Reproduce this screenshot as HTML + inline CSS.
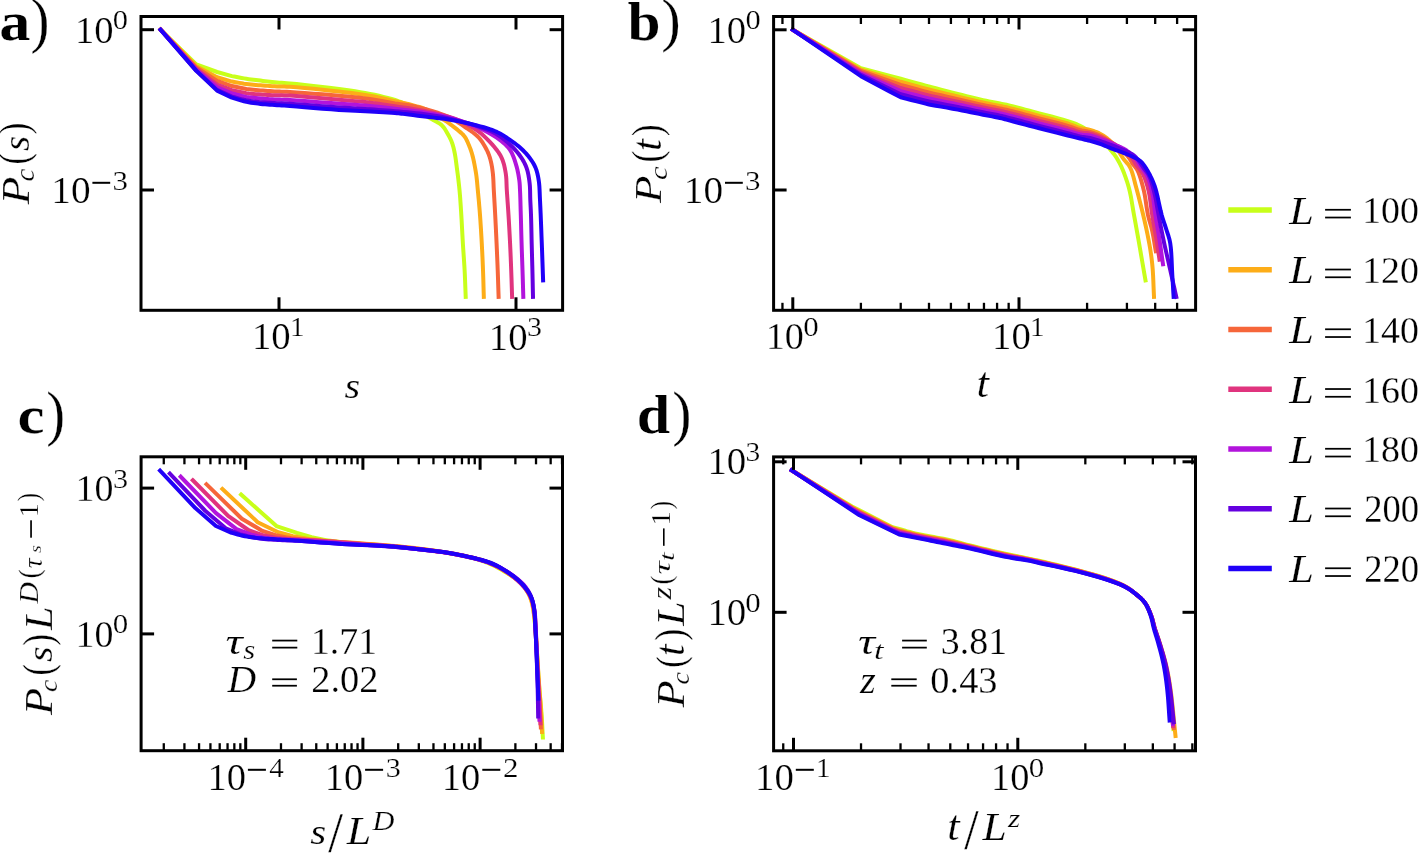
<!DOCTYPE html><html><head><meta charset="utf-8"><title>figure</title><style>html,body{margin:0;padding:0;background:#fff;overflow:hidden}svg{display:block}</style></head><body><svg width="1419" height="853" viewBox="0 0 1419 853"><rect width="1419" height="853" fill="#fff"/><defs>
<clipPath id="clipa"><rect x="141.0" y="16.5" width="421.6" height="293.8"/></clipPath>
<clipPath id="clipb"><rect x="773.6" y="16.5" width="422" height="293.8"/></clipPath>
<clipPath id="clipc"><rect x="141.1" y="456.8" width="421.4" height="293.9"/></clipPath>
<clipPath id="clipd"><rect x="773.6" y="456.9" width="421.9" height="293.9"/></clipPath>
</defs>
<polyline points="160.6,29.7 196.3,64.4 217.1,72 231.9,76.1 234.32,76.56 236.74,77.03 239.16,77.5 241.58,77.96 243.99,78.4 246.4,78.8 248.76,79.15 251.11,79.47 253.46,79.76 255.8,80.04 258.15,80.32 260.5,80.6 262.84,80.9 265.18,81.2 267.51,81.5 269.85,81.78 272.21,82.05 274.6,82.3 277.03,82.51 279.36,82.66 281.72,82.8 284.2,82.95 286.93,83.14 290,83.4 296.7,84.06 304.71,84.9 313.48,85.87 322.48,86.92 331.17,87.98 339,89 344.62,89.77 350,90.53 355.17,91.31 360.2,92.11 365.12,92.97 370,93.9 374.47,94.82 378.98,95.81 383.41,96.84 387.63,97.9 391.54,98.96 395,100 396.95,100.65 398.7,101.29 400.32,101.93 401.86,102.58 403.4,103.27 405,104 406.69,104.81 408.38,105.67 410.06,106.56 411.72,107.47 413.37,108.39 415,109.3 416.55,110.18 418.09,111.07 419.61,111.97 421.11,112.87 422.57,113.75 424,114.6 425.22,115.33 426.42,116.06 427.58,116.77 428.73,117.47 429.87,118.15 431,118.8 432.04,119.37 433.08,119.92 434.11,120.44 435.11,120.96 436.08,121.48 437,122 437.73,122.43 438.44,122.84 439.11,123.26 439.77,123.68 440.4,124.12 441,124.6 441.55,125.08 442.07,125.57 442.56,126.08 443.04,126.61 443.52,127.19 444,127.8 444.6,128.62 445.18,129.51 445.76,130.46 446.34,131.44 446.92,132.46 447.5,133.5 448.2,134.74 448.92,136.03 449.63,137.37 450.33,138.74 451,140.15 451.6,141.6 452.19,143.21 452.72,144.86 453.21,146.56 453.66,148.31 454.09,150.12 454.5,152 454.96,154.35 455.36,156.79 455.73,159.32 456.09,161.93 456.44,164.62 456.8,167.4 457.27,170.9 457.74,174.57 458.22,178.35 458.67,182.22 459.11,186.11 459.5,190 459.86,194.07 460.19,198.17 460.48,202.3 460.76,206.48 461.03,210.71 461.3,215 461.58,219.71 461.85,224.53 462.11,229.41 462.37,234.3 462.63,239.14 462.9,243.9 463.18,248.32 463.48,252.68 463.78,257.01 464.07,261.32 464.35,265.64 464.6,270 464.82,274.45 465.01,278.92 465.19,283.4 465.36,287.89 465.52,292.37 465.7,296.85" fill="none" stroke="#c8ff1a" stroke-width="4.0" stroke-linejoin="round" stroke-linecap="square" clip-path="url(#clipa)"/>
<polyline points="160.6,29.7 196.3,66.22 217.1,77.21 231.9,81.58 234.32,82 236.74,82.44 239.16,82.88 241.58,83.3 243.99,83.7 246.4,84.04 248.76,84.32 251.11,84.56 253.46,84.77 255.8,84.96 258.15,85.14 260.5,85.32 262.84,85.51 265.18,85.7 267.51,85.88 269.85,86.04 272.21,86.2 274.6,86.33 277.03,86.42 279.36,86.47 281.72,86.5 284.2,86.54 286.93,86.63 290,86.79 296.7,87.28 304.71,87.98 313.48,88.82 322.48,89.73 331.17,90.67 339,91.55 344.62,92.21 349.99,92.85 355.17,93.51 360.19,94.19 365.12,94.93 370,95.75 374.46,96.59 378.96,97.54 383.38,98.53 387.61,99.51 391.52,100.4 395,101.17 396.93,101.56 398.67,101.9 400.28,102.21 401.84,102.52 403.39,102.84 405,103.2 406.67,103.61 408.34,104.04 410.01,104.49 411.67,104.95 413.34,105.42 415,105.9 416.68,106.36 418.36,106.8 420.04,107.25 421.71,107.75 423.37,108.32 425,109 426.71,109.89 428.39,110.92 430.06,112.04 431.71,113.19 433.36,114.29 435,115.3 436.52,116.12 438.05,116.88 439.57,117.6 441.07,118.33 442.55,119.08 444,119.9 445.4,120.77 446.78,121.7 448.13,122.65 449.46,123.62 450.75,124.57 452,125.5 453.06,126.29 454.07,127.05 455.06,127.8 456.04,128.57 457.01,129.36 458,130.2 459.11,131.15 460.26,132.12 461.41,133.12 462.52,134.16 463.56,135.25 464.5,136.4 465.31,137.59 466.04,138.83 466.69,140.11 467.3,141.44 467.9,142.8 468.5,144.2 469.17,145.78 469.82,147.38 470.44,149.03 471.05,150.75 471.63,152.56 472.2,154.5 472.95,157.37 473.67,160.53 474.36,163.85 475,167.25 475.59,170.6 476.1,173.8 476.48,176.53 476.79,179.17 477.06,181.76 477.29,184.39 477.53,187.11 477.8,190 478.17,193.83 478.54,197.86 478.93,202.05 479.3,206.33 479.66,210.66 480,215 480.34,219.71 480.66,224.53 480.97,229.41 481.26,234.3 481.54,239.14 481.8,243.9 482.03,248.32 482.25,252.68 482.46,257.01 482.65,261.32 482.83,265.64 483,270 483.16,274.45 483.3,278.92 483.43,283.4 483.55,287.89 483.67,292.37 483.8,296.85" fill="none" stroke="#fdad18" stroke-width="4.0" stroke-linejoin="round" stroke-linecap="square" clip-path="url(#clipa)"/>
<polyline points="160.6,29.7 196.3,67.52 217.1,80.93 231.9,86.03 234.32,86.53 236.74,87.04 239.16,87.56 241.57,88.06 243.99,88.51 246.4,88.92 248.76,89.24 251.11,89.53 253.45,89.77 255.8,89.99 258.15,90.19 260.5,90.4 262.84,90.6 265.17,90.78 267.51,90.96 269.85,91.12 272.21,91.27 274.6,91.41 277.03,91.52 279.36,91.59 281.72,91.66 284.2,91.73 286.93,91.83 290,91.99 296.7,92.41 304.71,92.98 313.48,93.64 322.48,94.36 331.16,95.08 339,95.77 344.62,96.28 349.99,96.77 355.16,97.27 360.19,97.8 365.12,98.37 370,99.01 374.4,99.68 378.78,100.43 383.07,101.22 387.24,102.01 391.23,102.74 395,103.38 397.72,103.78 400.28,104.12 402.74,104.42 405.15,104.73 407.55,105.08 410,105.5 412.51,105.99 415.01,106.53 417.52,107.1 420.01,107.7 422.51,108.34 425,109 427.53,109.69 430.08,110.42 432.63,111.17 435.15,111.96 437.61,112.77 440,113.6 442.09,114.36 444.12,115.11 446.1,115.89 448.06,116.71 450.02,117.61 452,118.6 454.21,119.84 456.46,121.23 458.71,122.71 460.91,124.21 463.02,125.66 465,127 466.46,127.96 467.85,128.87 469.19,129.75 470.48,130.63 471.74,131.53 473,132.5 474.23,133.48 475.43,134.47 476.61,135.48 477.76,136.55 478.89,137.71 480,139 481.4,140.86 482.81,142.94 484.18,145.18 485.48,147.48 486.67,149.74 487.7,151.9 488.43,153.61 489.07,155.28 489.62,156.93 490.12,158.58 490.57,160.27 491,162 491.42,163.88 491.79,165.78 492.12,167.71 492.4,169.68 492.66,171.71 492.9,173.8 493.13,176.31 493.3,178.87 493.43,181.52 493.54,184.24 493.65,187.07 493.8,190 494.02,193.83 494.25,197.87 494.49,202.05 494.73,206.33 494.97,210.67 495.2,215 495.44,219.71 495.68,224.53 495.92,229.41 496.16,234.3 496.38,239.14 496.6,243.9 496.8,248.32 496.99,252.68 497.18,257.01 497.36,261.32 497.53,265.64 497.7,270 497.86,274.45 498.02,278.92 498.16,283.4 498.31,287.89 498.45,292.37 498.6,296.85" fill="none" stroke="#f6663a" stroke-width="4.0" stroke-linejoin="round" stroke-linecap="square" clip-path="url(#clipa)"/>
<polyline points="160.6,29.7 196.3,68.82 217.1,84.65 231.9,90.17 234.32,90.69 236.74,91.22 239.16,91.76 241.57,92.27 243.99,92.74 246.4,93.15 248.75,93.47 251.11,93.73 253.45,93.96 255.8,94.15 258.15,94.33 260.5,94.5 262.84,94.66 265.17,94.8 267.51,94.93 269.85,95.04 272.21,95.14 274.6,95.23 277.03,95.3 279.36,95.33 281.72,95.36 284.2,95.39 286.93,95.47 290,95.6 296.7,96.04 304.71,96.66 313.48,97.41 322.47,98.2 331.16,98.99 339,99.7 344.62,100.2 349.98,100.66 355.16,101.12 360.18,101.6 365.11,102.1 370,102.65 374.33,103.19 378.54,103.77 382.67,104.37 386.77,104.99 390.87,105.62 395,106.24 399.2,106.86 403.44,107.47 407.68,108.09 411.88,108.73 416,109.4 420,110.1 423.48,110.75 426.89,111.42 430.23,112.1 433.51,112.82 436.77,113.58 440,114.4 443.12,115.23 446.24,116.1 449.33,117.01 452.35,117.96 455.25,118.96 458,120 460.19,120.92 462.27,121.88 464.27,122.86 466.22,123.88 468.12,124.93 470,126 471.73,127 473.4,127.99 475.03,129.01 476.65,130.08 478.3,131.27 480,132.6 482.35,134.6 484.83,136.87 487.35,139.32 489.81,141.85 492.13,144.38 494.2,146.8 495.75,148.71 497.19,150.58 498.53,152.44 499.76,154.34 500.89,156.31 501.9,158.4 502.84,160.78 503.64,163.28 504.31,165.87 504.88,168.51 505.37,171.16 505.8,173.8 506.13,176.42 506.34,179.02 506.46,181.64 506.55,184.32 506.65,187.09 506.8,190 507.06,193.83 507.34,197.87 507.63,202.05 507.93,206.33 508.22,210.67 508.5,215 508.79,219.71 509.07,224.53 509.34,229.41 509.61,234.3 509.86,239.14 510.1,243.9 510.31,248.32 510.5,252.68 510.69,257.01 510.86,261.32 511.03,265.64 511.2,270 511.36,274.45 511.52,278.92 511.66,283.4 511.81,287.89 511.95,292.37 512.1,296.85" fill="none" stroke="#e0347e" stroke-width="4.0" stroke-linejoin="round" stroke-linecap="square" clip-path="url(#clipa)"/>
<polyline points="160.6,29.7 196.3,69.73 217.1,87.25 231.9,93.44 234.32,94.03 236.74,94.65 239.15,95.27 241.57,95.86 243.99,96.4 246.4,96.87 248.75,97.26 251.1,97.58 253.45,97.85 255.8,98.1 258.15,98.32 260.5,98.53 262.84,98.72 265.17,98.88 267.51,99.03 269.85,99.15 272.21,99.27 274.6,99.39 277.03,99.5 279.36,99.58 281.72,99.65 284.2,99.74 286.93,99.85 290,100.01 296.7,100.44 304.7,101.03 313.48,101.7 322.47,102.41 331.16,103.1 339,103.7 344.61,104.11 349.98,104.48 355.15,104.84 360.18,105.2 365.11,105.57 370,105.99 374.32,106.4 378.54,106.83 382.67,107.27 386.77,107.72 390.87,108.19 395,108.67 399.2,109.16 403.44,109.65 407.68,110.15 411.88,110.67 416,111.22 420,111.8 423.47,112.34 426.84,112.89 430.16,113.46 433.43,114.06 436.7,114.7 440,115.4 443.36,116.15 446.73,116.94 450.1,117.78 453.44,118.66 456.75,119.6 460,120.6 463.08,121.61 466.1,122.66 469.09,123.76 472.06,124.93 475.03,126.17 478,127.5 481.18,128.99 484.42,130.57 487.65,132.24 490.82,133.98 493.85,135.8 496.7,137.7 499.14,139.45 501.51,141.24 503.78,143.1 505.91,145.04 507.86,147.1 509.6,149.3 511.08,151.64 512.34,154.15 513.44,156.77 514.4,159.45 515.28,162.14 516.1,164.8 516.84,167.4 517.49,170.06 518.05,172.74 518.54,175.38 518.95,177.91 519.3,180.3 519.51,181.99 519.66,183.53 519.76,185 519.84,186.51 519.91,188.15 520,190 520.16,193.47 520.3,197.4 520.43,201.66 520.55,206.1 520.67,210.59 520.8,215 520.94,219.71 521.07,224.53 521.19,229.41 521.32,234.3 521.46,239.14 521.6,243.9 521.74,248.32 521.89,252.68 522.05,257.01 522.2,261.32 522.35,265.64 522.5,270 522.64,274.45 522.78,278.92 522.91,283.4 523.04,287.89 523.17,292.37 523.3,296.85" fill="none" stroke="#b214dc" stroke-width="4.0" stroke-linejoin="round" stroke-linecap="square" clip-path="url(#clipa)"/>
<polyline points="160.6,29.7 196.3,70.64 217.1,89.86 231.9,96.57 234.32,97.22 236.73,97.89 239.15,98.57 241.57,99.22 243.98,99.81 246.4,100.33 248.75,100.74 251.1,101.1 253.45,101.4 255.8,101.67 258.15,101.91 260.5,102.14 262.84,102.34 265.17,102.5 267.51,102.65 269.85,102.77 272.21,102.89 274.6,103.02 277.03,103.14 279.36,103.24 281.72,103.33 284.2,103.44 286.92,103.57 290,103.74 296.7,104.19 304.7,104.79 313.47,105.48 322.47,106.19 331.16,106.86 339,107.42 344.61,107.78 349.98,108.1 355.15,108.4 360.18,108.68 365.11,108.98 370,109.29 374.32,109.59 378.53,109.89 382.67,110.19 386.77,110.5 390.87,110.83 395,111.18 399.2,111.54 403.44,111.92 407.68,112.3 411.88,112.71 416,113.14 420,113.6 423.47,114.02 426.84,114.45 430.15,114.9 433.43,115.38 436.7,115.91 440,116.5 443.34,117.17 446.68,117.9 450.02,118.67 453.35,119.49 456.68,120.33 460,121.2 463.37,122.08 466.77,122.99 470.17,123.93 473.53,124.9 476.82,125.92 480,127 482.82,128.01 485.58,129.02 488.28,130.08 490.92,131.21 493.49,132.44 496,133.8 498.43,135.3 500.8,136.93 503.11,138.66 505.36,140.47 507.52,142.32 509.6,144.2 511.52,146.03 513.39,147.91 515.18,149.83 516.89,151.8 518.5,153.79 520,155.8 521.28,157.65 522.48,159.51 523.6,161.39 524.63,163.32 525.56,165.31 526.4,167.4 527.19,169.8 527.85,172.31 528.4,174.91 528.86,177.56 529.26,180.23 529.6,182.9 529.87,185.71 530.03,188.57 530.11,191.46 530.16,194.35 530.21,197.2 530.3,200 530.42,202.5 530.54,204.89 530.66,207.26 530.78,209.67 530.89,212.23 531,215 531.13,219.29 531.26,223.99 531.37,228.95 531.48,234.03 531.58,239.06 531.7,243.9 531.82,248.32 531.93,252.68 532.05,257.01 532.17,261.32 532.29,265.64 532.4,270 532.51,274.45 532.61,278.92 532.71,283.4 532.8,287.89 532.9,292.37 533,296.85" fill="none" stroke="#6400e0" stroke-width="4.0" stroke-linejoin="round" stroke-linecap="square" clip-path="url(#clipa)"/>
<polyline points="160.6,29.7 196.3,70.9 217.1,90.6 231.9,97.7 234.32,98.41 236.73,99.14 239.15,99.87 241.57,100.58 243.98,101.23 246.4,101.8 248.75,102.27 251.1,102.67 253.45,103.03 255.8,103.34 258.15,103.63 260.5,103.9 262.84,104.14 265.17,104.35 267.51,104.52 269.85,104.68 272.21,104.84 274.6,105 277.03,105.17 279.36,105.31 281.72,105.46 284.2,105.61 286.92,105.79 290,106 296.7,106.52 304.7,107.17 313.47,107.9 322.47,108.64 331.16,109.33 339,109.9 344.61,110.26 349.98,110.56 355.15,110.84 360.17,111.09 365.11,111.34 370,111.6 374.45,111.84 378.95,112.06 383.37,112.28 387.6,112.51 391.52,112.74 395,113 396.88,113.17 398.5,113.33 399.99,113.5 401.49,113.68 403.12,113.88 405,114.1 408.7,114.54 413,115.07 417.63,115.64 422.35,116.23 426.89,116.8 431,117.3 433.88,117.63 436.6,117.92 439.2,118.2 441.76,118.49 444.34,118.81 447,119.2 449.91,119.68 452.89,120.23 455.89,120.81 458.86,121.41 461.75,122.02 464.5,122.6 466.7,123.07 468.82,123.54 470.87,124 472.89,124.48 474.92,124.97 477,125.5 479.22,126.07 481.5,126.67 483.78,127.28 486.03,127.92 488.22,128.6 490.3,129.3 492.03,129.93 493.68,130.58 495.29,131.24 496.87,131.94 498.43,132.69 500,133.5 501.63,134.41 503.23,135.39 504.82,136.42 506.41,137.48 508,138.58 509.6,139.7 511.34,140.91 513.11,142.15 514.88,143.42 516.63,144.73 518.35,146.09 520,147.5 521.61,148.97 523.2,150.49 524.74,152.06 526.23,153.68 527.66,155.32 529,157 530.23,158.64 531.42,160.31 532.54,162.01 533.58,163.75 534.54,165.54 535.4,167.4 536.17,169.4 536.83,171.44 537.39,173.53 537.88,175.7 538.31,177.95 538.7,180.3 539.09,183.24 539.36,186.25 539.54,189.39 539.68,192.69 539.82,196.21 540,200 540.31,206.36 540.63,213.5 540.93,221.12 541.24,228.92 541.52,236.62 541.8,243.9 542.04,250.18 542.26,256.32 542.47,262.36 542.68,268.36 542.89,274.36 543.1,280.4" fill="none" stroke="#2000f8" stroke-width="4.0" stroke-linejoin="round" stroke-linecap="square" clip-path="url(#clipa)"/>
<polyline points="792.8,29.8 860.9,68.3 890,75.9 900.7,78.7 905.68,80.09 911.17,81.62 916.67,83.16 921.64,84.55 925.59,85.64 928,86.3 928.23,86.36 928.38,86.4 928.5,86.43 928.62,86.46 928.77,86.5 929,86.56 931.53,87.21 935.72,88.29 941,89.65 946.81,91.14 952.56,92.6 957.7,93.9 962.06,95 966.43,96.1 970.76,97.18 974.99,98.22 979.09,99.2 983,100.1 986.07,100.77 989.08,101.39 991.99,101.98 994.79,102.53 997.46,103.06 1000,103.56 1001.77,103.92 1003.37,104.22 1004.9,104.52 1006.46,104.82 1008.12,105.18 1010,105.6 1013.34,106.41 1017.03,107.37 1021.01,108.43 1025.18,109.56 1029.48,110.73 1033.8,111.9 1039.3,113.35 1045.29,114.9 1051.45,116.5 1057.45,118.11 1062.97,119.65 1067.7,121.1 1070.17,121.92 1072.42,122.69 1074.49,123.45 1076.42,124.21 1078.25,124.98 1080,125.8 1081.3,126.46 1082.5,127.12 1083.63,127.8 1084.74,128.5 1085.85,129.23 1087,130 1088.32,130.92 1089.65,131.89 1090.99,132.9 1092.33,133.93 1093.67,134.97 1095,136 1096.36,137.05 1097.75,138.11 1099.13,139.19 1100.49,140.25 1101.79,141.3 1103,142.3 1103.93,143.08 1104.82,143.85 1105.68,144.59 1106.5,145.33 1107.27,146.06 1108,146.8 1108.56,147.41 1109.06,148.01 1109.53,148.6 1110,149.21 1110.48,149.84 1111,150.5 1111.7,151.35 1112.43,152.22 1113.19,153.13 1113.96,154.08 1114.73,155.1 1115.5,156.2 1116.51,157.76 1117.54,159.42 1118.57,161.19 1119.59,163.08 1120.61,165.08 1121.6,167.2 1122.91,170.26 1124.23,173.58 1125.52,177.1 1126.77,180.77 1127.93,184.53 1129,188.3 1130.03,192.55 1130.92,196.96 1131.73,201.48 1132.48,206.03 1133.23,210.56 1134,215 1134.77,219.23 1135.54,223.45 1136.3,227.65 1137.05,231.81 1137.78,235.93 1138.5,240 1139.16,243.77 1139.81,247.51 1140.44,251.21 1141.07,254.86 1141.69,258.46 1142.3,262 1142.85,265.16 1143.39,268.26 1143.92,271.3 1144.44,274.33 1144.97,277.35 1145.5,280.4" fill="none" stroke="#c8ff1a" stroke-width="4.0" stroke-linejoin="round" stroke-linecap="square" clip-path="url(#clipb)"/>
<polyline points="792.8,29.8 860.9,69.62 890,78.52 900.7,81.8 905.68,83.17 911.17,84.68 916.67,86.19 921.64,87.56 925.59,88.64 928,89.29 928.23,89.35 928.38,89.39 928.5,89.42 928.61,89.45 928.77,89.49 929,89.55 931.53,90.17 935.72,91.19 941,92.48 946.81,93.89 952.57,95.28 957.7,96.52 962.07,97.57 966.43,98.63 970.76,99.68 974.99,100.69 979.09,101.65 983,102.53 986.08,103.19 989.08,103.8 991.99,104.38 994.79,104.93 997.47,105.45 1000,105.97 1001.77,106.33 1003.37,106.66 1004.9,106.97 1006.45,107.3 1008.12,107.67 1010,108.11 1013.34,108.93 1017.03,109.89 1021.01,110.95 1025.18,112.08 1029.47,113.24 1033.8,114.4 1039.3,115.84 1045.29,117.39 1051.44,118.99 1057.44,120.57 1062.97,122.1 1067.7,123.5 1070.13,124.31 1072.31,125.12 1074.31,125.91 1076.21,126.65 1078.08,127.32 1080,127.92 1081.72,128.33 1083.4,128.65 1085.07,128.91 1086.71,129.18 1088.36,129.49 1090,129.9 1091.69,130.4 1093.38,130.93 1095.06,131.52 1096.72,132.16 1098.37,132.89 1100,133.7 1101.73,134.67 1103.46,135.74 1105.18,136.9 1106.85,138.13 1108.46,139.44 1110,140.8 1111.48,142.27 1112.88,143.85 1114.23,145.49 1115.53,147.17 1116.78,148.85 1118,150.5 1119.08,152.01 1120.09,153.53 1121.07,155.06 1122.03,156.57 1123,158.05 1124,159.5 1125,160.77 1126.03,161.94 1127.07,163.09 1128.09,164.29 1129.08,165.63 1130,167.2 1131.24,169.96 1132.33,173.08 1133.34,176.51 1134.31,180.22 1135.31,184.17 1136.4,188.3 1138.2,195.04 1140.16,202.67 1142.18,210.8 1144.15,219.04 1145.96,227 1147.5,234.3 1148.53,239.54 1149.44,244.49 1150.26,249.27 1150.98,253.99 1151.63,258.76 1152.2,263.7 1152.69,269.11 1153.04,274.62 1153.3,280.19 1153.52,285.78 1153.74,291.38 1154,296.95" fill="none" stroke="#fdad18" stroke-width="4.0" stroke-linejoin="round" stroke-linecap="square" clip-path="url(#clipb)"/>
<polyline points="792.8,29.8 860.9,70.93 890,81.14 900.7,84.9 905.68,86.25 911.17,87.74 916.67,89.23 921.64,90.57 925.59,91.64 928,92.28 928.23,92.34 928.38,92.38 928.5,92.41 928.61,92.44 928.77,92.48 929,92.54 931.53,93.13 935.72,94.1 941,95.31 946.81,96.64 952.57,97.95 957.7,99.13 962.07,100.15 966.43,101.17 970.76,102.19 974.99,103.17 979.09,104.1 983,104.97 986.08,105.61 989.08,106.21 991.99,106.78 994.79,107.33 997.47,107.85 1000,108.38 1001.77,108.75 1003.38,109.09 1004.9,109.42 1006.45,109.77 1008.12,110.16 1010,110.61 1013.33,111.45 1017.03,112.41 1021.01,113.47 1025.18,114.59 1029.47,115.75 1033.8,116.9 1039.3,118.34 1045.29,119.88 1051.44,121.47 1057.44,123.04 1062.97,124.54 1067.7,125.9 1070.13,126.67 1072.31,127.43 1074.31,128.16 1076.21,128.84 1078.09,129.47 1080,130.03 1081.72,130.44 1083.4,130.75 1085.06,131.03 1086.71,131.3 1088.35,131.61 1090,132 1091.68,132.47 1093.36,132.97 1095.04,133.52 1096.71,134.12 1098.36,134.77 1100,135.5 1101.7,136.35 1103.38,137.29 1105.05,138.3 1106.7,139.35 1108.35,140.42 1110,141.5 1111.7,142.6 1113.41,143.72 1115.12,144.86 1116.8,146.04 1118.44,147.25 1120,148.5 1121.46,149.76 1122.89,151.06 1124.27,152.39 1125.6,153.75 1126.84,155.12 1128,156.5 1128.92,157.74 1129.75,159 1130.52,160.27 1131.27,161.54 1132.01,162.79 1132.8,164 1133.58,165.05 1134.38,166.02 1135.18,166.96 1135.97,167.96 1136.75,169.08 1137.5,170.4 1138.67,173.02 1139.81,176.1 1140.9,179.5 1141.93,183.11 1142.9,186.79 1143.8,190.4 1144.65,194.4 1145.37,198.59 1146.01,202.87 1146.62,207.11 1147.27,211.19 1148,215 1148.67,217.82 1149.38,220.46 1150.11,222.99 1150.84,225.5 1151.55,228.08 1152.2,230.8 1152.87,234.05 1153.49,237.42 1154.08,240.87 1154.64,244.36 1155.21,247.85 1155.8,251.3" fill="none" stroke="#f6663a" stroke-width="4.0" stroke-linejoin="round" stroke-linecap="square" clip-path="url(#clipb)"/>
<polyline points="792.8,29.8 860.9,72.25 890,83.76 900.7,88 905.68,89.33 911.17,90.79 916.67,92.26 921.64,93.59 925.59,94.64 928,95.27 928.23,95.33 928.38,95.37 928.5,95.41 928.61,95.44 928.77,95.47 929,95.53 931.53,96.09 935.72,97 941,98.14 946.81,99.39 952.57,100.63 957.7,101.75 962.07,102.72 966.44,103.71 970.76,104.69 974.99,105.65 979.09,106.56 983,107.4 986.08,108.03 989.08,108.62 991.99,109.18 994.79,109.72 997.47,110.25 1000,110.78 1001.77,111.17 1003.38,111.53 1004.9,111.88 1006.45,112.25 1008.12,112.65 1010,113.12 1013.33,113.96 1017.03,114.93 1021.01,115.99 1025.18,117.11 1029.47,118.25 1033.8,119.4 1039.3,120.83 1045.28,122.37 1051.44,123.95 1057.43,125.51 1062.96,126.98 1067.7,128.3 1070.12,129.04 1072.3,129.76 1074.31,130.44 1076.21,131.08 1078.08,131.66 1080,132.15 1081.72,132.48 1083.4,132.7 1085.07,132.87 1086.71,133.05 1088.36,133.27 1090,133.6 1091.68,134.04 1093.36,134.54 1095.03,135.1 1096.69,135.7 1098.35,136.34 1100,137 1101.68,137.71 1103.36,138.47 1105.03,139.27 1106.69,140.09 1108.35,140.94 1110,141.8 1111.68,142.67 1113.35,143.54 1115.01,144.43 1116.67,145.37 1118.33,146.38 1120,147.5 1122,148.96 1124.09,150.57 1126.18,152.28 1128.19,154.04 1130.02,155.8 1131.6,157.5 1132.58,158.75 1133.39,160 1134.1,161.24 1134.78,162.49 1135.5,163.74 1136.3,165 1137.31,166.35 1138.4,167.67 1139.52,168.98 1140.64,170.36 1141.72,171.85 1142.7,173.5 1143.86,175.89 1144.93,178.51 1145.93,181.31 1146.85,184.25 1147.71,187.3 1148.5,190.4 1149.31,194.22 1149.97,198.28 1150.54,202.47 1151.07,206.72 1151.6,210.92 1152.2,215 1152.82,218.74 1153.46,222.41 1154.1,226.06 1154.75,229.69 1155.38,233.33 1156,237 1156.6,240.76 1157.19,244.54 1157.77,248.33 1158.35,252.12 1158.92,255.91 1159.5,259.7" fill="none" stroke="#e0347e" stroke-width="4.0" stroke-linejoin="round" stroke-linecap="square" clip-path="url(#clipb)"/>
<polyline points="792.8,29.8 860.9,73.57 890,86.38 900.7,91.1 905.68,92.41 911.17,93.85 916.67,95.29 921.64,96.6 925.59,97.64 928,98.26 928.23,98.32 928.38,98.37 928.5,98.4 928.61,98.43 928.77,98.46 929,98.52 931.53,99.06 935.72,99.91 941.01,100.97 946.81,102.14 952.57,103.31 957.7,104.37 962.07,105.3 966.44,106.25 970.76,107.2 975,108.12 979.09,109.01 983,109.83 986.08,110.45 989.08,111.03 991.99,111.59 994.79,112.12 997.47,112.65 1000,113.19 1001.77,113.59 1003.38,113.96 1004.9,114.33 1006.45,114.72 1008.12,115.14 1010,115.62 1013.33,116.48 1017.03,117.45 1021,118.51 1025.18,119.62 1029.47,120.76 1033.8,121.9 1039.3,123.33 1045.28,124.86 1051.43,126.44 1057.43,127.98 1062.96,129.43 1067.7,130.7 1070.12,131.4 1072.3,132.07 1074.3,132.71 1076.21,133.3 1078.08,133.82 1080,134.27 1081.72,134.55 1083.4,134.74 1085.07,134.87 1086.71,135.01 1088.36,135.2 1090,135.5 1091.68,135.93 1093.35,136.43 1095.02,137 1096.68,137.6 1098.34,138.2 1100,138.8 1101.71,139.4 1103.47,140.02 1105.23,140.65 1106.93,141.28 1108.54,141.9 1110,142.5 1110.92,142.9 1111.74,143.29 1112.51,143.67 1113.27,144.06 1114.09,144.46 1115,144.9 1116.47,145.55 1118.09,146.21 1119.81,146.91 1121.57,147.68 1123.32,148.53 1125,149.5 1126.88,150.76 1128.8,152.18 1130.71,153.72 1132.54,155.32 1134.23,156.93 1135.7,158.5 1136.68,159.72 1137.51,160.95 1138.26,162.18 1138.96,163.43 1139.69,164.7 1140.5,166 1141.54,167.49 1142.66,168.98 1143.81,170.5 1144.94,172.09 1146.02,173.78 1147,175.6 1148.07,178.06 1149.05,180.72 1149.93,183.53 1150.75,186.46 1151.5,189.46 1152.2,192.5 1152.89,196.03 1153.45,199.69 1153.94,203.46 1154.39,207.28 1154.86,211.14 1155.4,215 1156.05,219.1 1156.73,223.25 1157.44,227.44 1158.15,231.64 1158.84,235.84 1159.5,240 1160.11,244.07 1160.71,248.12 1161.28,252.17 1161.85,256.21 1162.42,260.25 1163,264.3" fill="none" stroke="#b214dc" stroke-width="4.0" stroke-linejoin="round" stroke-linecap="square" clip-path="url(#clipb)"/>
<polyline points="792.8,29.8 860.9,74.88 890,89.01 900.7,94.2 905.68,95.49 911.17,96.91 916.67,98.33 921.64,99.61 925.59,100.63 928,101.25 928.23,101.31 928.38,101.36 928.5,101.39 928.61,101.42 928.77,101.46 929,101.51 931.53,102.02 935.72,102.81 941.01,103.8 946.81,104.89 952.57,105.98 957.7,106.98 962.07,107.87 966.44,108.78 970.76,109.7 975,110.6 979.09,111.46 983,112.27 986.08,112.87 989.08,113.44 991.99,113.99 994.8,114.52 997.47,115.05 1000,115.59 1001.77,116 1003.38,116.4 1004.9,116.79 1006.45,117.2 1008.12,117.64 1010,118.13 1013.33,119 1017.03,119.97 1021,121.03 1025.18,122.13 1029.47,123.27 1033.8,124.4 1039.3,125.82 1045.28,127.35 1051.43,128.92 1057.43,130.45 1062.96,131.87 1067.7,133.1 1070.12,133.75 1072.3,134.36 1074.31,134.93 1076.21,135.46 1078.09,135.94 1080,136.38 1081.72,136.71 1083.41,136.96 1085.07,137.19 1086.71,137.41 1088.35,137.67 1090,138 1091.68,138.42 1093.35,138.88 1095.01,139.38 1096.68,139.91 1098.34,140.46 1100,141 1101.67,141.55 1103.34,142.11 1105.01,142.69 1106.68,143.28 1108.34,143.88 1110,144.5 1111.66,145.12 1113.3,145.75 1114.93,146.39 1116.59,147.05 1118.27,147.75 1120,148.5 1122.15,149.43 1124.45,150.41 1126.8,151.44 1129.08,152.52 1131.18,153.64 1133,154.8 1134.15,155.69 1135.16,156.6 1136.08,157.53 1136.94,158.49 1137.77,159.48 1138.6,160.5 1139.44,161.59 1140.23,162.73 1140.98,163.9 1141.73,165.09 1142.5,166.29 1143.3,167.5 1144.23,168.77 1145.21,170.02 1146.2,171.27 1147.19,172.59 1148.13,174.02 1149,175.6 1150.05,177.98 1151.02,180.62 1151.9,183.45 1152.74,186.41 1153.53,189.45 1154.3,192.5 1155.12,196.03 1155.86,199.7 1156.54,203.46 1157.21,207.28 1157.89,211.14 1158.6,215 1159.39,219.12 1160.2,223.34 1161.02,227.6 1161.84,231.83 1162.67,235.98 1163.5,240 1164.24,243.47 1164.99,246.84 1165.74,250.14 1166.5,253.42 1167.25,256.69 1168,260 1168.75,263.35 1169.51,266.73 1170.27,270.1 1171.03,273.46 1171.77,276.76 1172.5,280 1173.15,282.91 1173.79,285.75 1174.42,288.56 1175.05,291.35 1175.67,294.14 1176.3,296.95" fill="none" stroke="#6400e0" stroke-width="4.0" stroke-linejoin="round" stroke-linecap="square" clip-path="url(#clipb)"/>
<polyline points="792.8,29.8 860.9,76.2 890,91.63 900.7,97.3 905.68,98.57 911.17,99.96 916.67,101.36 921.65,102.63 925.59,103.63 928,104.25 928.23,104.31 928.38,104.35 928.5,104.38 928.61,104.41 928.77,104.45 929,104.5 931.53,104.98 935.72,105.72 941.01,106.64 946.81,107.64 952.57,108.66 957.7,109.6 962.07,110.45 966.44,111.32 970.77,112.21 975,113.08 979.09,113.91 983,114.7 986.08,115.29 989.08,115.85 992,116.39 994.8,116.92 997.47,117.45 1000,118 1001.78,118.42 1003.38,118.83 1004.9,119.24 1006.45,119.67 1008.12,120.13 1010,120.63 1013.33,121.51 1017.02,122.49 1021,123.55 1025.18,124.65 1029.47,125.77 1033.8,126.9 1039.3,128.31 1045.28,129.84 1051.42,131.41 1057.42,132.92 1062.95,134.31 1067.7,135.5 1070.12,136.1 1072.3,136.63 1074.31,137.12 1076.22,137.59 1078.09,138.04 1080,138.5 1081.73,138.91 1083.41,139.3 1085.07,139.69 1086.71,140.08 1088.35,140.48 1090,140.9 1091.67,141.34 1093.34,141.79 1095.02,142.25 1096.68,142.73 1098.34,143.25 1100,143.8 1101.68,144.42 1103.34,145.09 1105.01,145.8 1106.67,146.52 1108.33,147.23 1110,147.9 1111.66,148.54 1113.33,149.15 1115,149.76 1116.67,150.37 1118.33,150.98 1120,151.6 1121.67,152.22 1123.35,152.84 1125.02,153.46 1126.69,154.1 1128.35,154.78 1130,155.5 1131.73,156.29 1133.52,157.1 1135.29,157.95 1137,158.85 1138.59,159.79 1140,160.8 1140.99,161.65 1141.85,162.52 1142.64,163.42 1143.38,164.37 1144.12,165.39 1144.9,166.5 1145.98,168.12 1147.08,169.92 1148.18,171.83 1149.24,173.81 1150.26,175.78 1151.2,177.7 1152,179.4 1152.73,181.04 1153.41,182.67 1154.07,184.38 1154.73,186.23 1155.4,188.3 1156.46,192.12 1157.52,196.57 1158.56,201.36 1159.61,206.22 1160.65,210.86 1161.7,215 1162.51,217.77 1163.33,220.37 1164.15,222.84 1164.96,225.24 1165.75,227.61 1166.5,230 1167.18,232.16 1167.86,234.2 1168.51,236.22 1169.13,238.31 1169.7,240.57 1170.2,243.1 1170.81,247.66 1171.24,252.89 1171.56,258.53 1171.8,264.28 1172.03,269.86 1172.3,275 1172.54,278.89 1172.76,282.62 1172.98,286.23 1173.18,289.78 1173.39,293.34 1173.6,296.95" fill="none" stroke="#2000f8" stroke-width="4.0" stroke-linejoin="round" stroke-linecap="square" clip-path="url(#clipb)"/>
<polyline points="241.11,494.5 276.42,526.06 296.99,532.97 311.63,537.29 314.02,537.77 316.41,538.26 318.81,538.75 321.2,539.23 323.59,539.69 325.97,540.11 328.3,540.47 330.63,540.81 332.95,541.12 335.27,541.41 337.59,541.69 339.91,541.97 342.23,542.25 344.54,542.52 346.85,542.78 349.16,543.03 351.5,543.26 353.86,543.48 356.26,543.67 358.57,543.81 360.9,543.95 363.36,544.08 366.05,544.25 369.09,544.47 375.72,545 383.64,545.67 392.31,546.42 401.21,547.24 409.81,548.07 417.55,548.89 423.11,549.51 428.43,550.13 433.54,550.76 438.51,551.42 443.39,552.13 448.21,552.91 452.63,553.68 457.08,554.53 461.46,555.41 465.64,556.31 469.51,557.19 472.94,558.03 474.86,558.54 476.58,559.02 478.18,559.49 479.72,559.98 481.24,560.49 482.83,561.05 484.5,561.65 486.17,562.28 487.83,562.94 489.48,563.63 491.12,564.34 492.72,565.07 494.26,565.81 495.78,566.59 497.29,567.4 498.77,568.21 500.22,569.02 501.62,569.82 502.84,570.52 504.02,571.23 505.18,571.93 506.31,572.63 507.43,573.32 508.54,574 509.58,574.62 510.61,575.23 511.63,575.83 512.62,576.43 513.57,577.02 514.48,577.62 515.2,578.14 515.9,578.65 516.56,579.16 517.21,579.67 517.83,580.18 518.43,580.7 518.96,581.17 519.47,581.63 519.95,582.1 520.43,582.57 520.91,583.07 521.4,583.6 521.97,584.22 522.54,584.87 523.11,585.54 523.68,586.25 524.27,587.01 524.86,587.83 525.72,589.04 526.65,590.37 527.58,591.79 528.5,593.27 529.34,594.77 530.07,596.28 530.68,597.77 531.21,599.28 531.66,600.82 532.07,602.4 532.44,604.03 532.8,605.74 533.19,607.87 533.52,610.09 533.79,612.39 534.05,614.77 534.29,617.22 534.54,619.75 534.86,622.93 535.16,626.27 535.46,629.71 535.74,633.23 536,636.77 536.26,640.3 536.5,644.01 536.72,647.74 536.93,651.5 537.13,655.3 537.35,659.15 537.58,663.04 537.84,667.33 538.11,671.72 538.39,676.16 538.68,680.6 538.99,685.01 539.32,689.33 539.66,693.36 540.04,697.32 540.42,701.26 540.81,705.18 541.17,709.11 541.49,713.07 541.77,717.12 542.01,721.19 542.23,725.26 542.44,729.34 542.64,733.42 542.86,737.5" fill="none" stroke="#c8ff1a" stroke-width="4.0" stroke-linejoin="round" stroke-linecap="square" clip-path="url(#clipc)"/>
<polyline points="222.37,488.98 257.67,522.2 278.25,532.19 292.88,536.16 295.27,536.58 297.67,537.02 300.06,537.45 302.45,537.87 304.84,538.26 307.22,538.62 309.56,538.93 311.88,539.21 314.2,539.47 316.53,539.71 318.85,539.94 321.17,540.18 323.49,540.42 325.79,540.66 328.1,540.89 330.42,541.12 332.75,541.33 335.11,541.54 337.51,541.73 339.82,541.89 342.15,542.05 344.61,542.21 347.3,542.39 350.35,542.6 356.97,543.08 364.89,543.65 373.57,544.28 382.47,544.95 391.06,545.65 398.81,546.35 404.37,546.91 409.68,547.47 414.79,548.05 419.76,548.65 424.64,549.28 429.47,549.94 433.88,550.58 438.33,551.28 442.7,552 446.88,552.71 450.75,553.38 454.19,553.98 456.1,554.32 457.82,554.63 459.42,554.93 460.96,555.22 462.49,555.53 464.08,555.86 465.74,556.21 467.39,556.57 469.03,556.95 470.68,557.33 472.33,557.73 473.97,558.13 475.63,558.54 477.28,558.94 478.94,559.35 480.59,559.79 482.23,560.27 483.86,560.82 485.54,561.46 487.21,562.17 488.87,562.93 490.52,563.71 492.15,564.51 493.75,565.29 495.28,566.04 496.79,566.78 498.29,567.54 499.77,568.3 501.22,569.09 502.66,569.91 504.03,570.73 505.39,571.59 506.74,572.46 508.05,573.35 509.33,574.22 510.57,575.07 511.61,575.79 512.62,576.49 513.6,577.18 514.56,577.89 515.53,578.62 516.5,579.41 517.59,580.31 518.7,581.25 519.81,582.23 520.89,583.25 521.94,584.31 522.93,585.41 523.89,586.59 524.82,587.82 525.7,589.09 526.54,590.4 527.34,591.75 528.09,593.13 528.82,594.57 529.49,596.03 530.11,597.52 530.7,599.08 531.24,600.73 531.76,602.49 532.4,605.1 532.97,607.97 533.48,611 533.93,614.09 534.33,617.14 534.69,620.05 534.97,622.54 535.19,624.93 535.36,627.29 535.52,629.68 535.67,632.16 535.85,634.79 536.09,638.27 536.34,641.94 536.58,645.75 536.83,649.64 537.08,653.58 537.33,657.53 537.61,661.81 537.89,666.2 538.18,670.63 538.47,675.08 538.76,679.49 539.06,683.81 539.35,687.84 539.65,691.8 539.95,695.74 540.25,699.66 540.54,703.59 540.8,707.55 541.03,711.6 541.25,715.67 541.44,719.74 541.63,723.82 541.82,727.9 542.02,731.98" fill="none" stroke="#fdad18" stroke-width="4.0" stroke-linejoin="round" stroke-linecap="square" clip-path="url(#clipc)"/>
<polyline points="206.52,484.31 241.82,518.71 262.4,530.91 277.03,535.55 279.43,536 281.82,536.47 284.21,536.93 286.6,537.38 288.99,537.8 291.37,538.17 293.71,538.48 296.03,538.75 298.35,538.98 300.68,539.19 303,539.4 305.32,539.61 307.64,539.83 309.94,540.04 312.25,540.24 314.57,540.43 316.9,540.62 319.27,540.8 321.67,540.97 323.97,541.13 326.3,541.28 328.76,541.44 331.45,541.61 334.5,541.82 341.12,542.28 349.04,542.82 357.71,543.43 366.61,544.07 375.21,544.71 382.96,545.33 388.51,545.79 393.82,546.25 398.94,546.7 403.91,547.17 408.78,547.66 413.62,548.19 417.97,548.7 422.3,549.24 426.54,549.8 430.67,550.36 434.62,550.91 438.34,551.43 441.04,551.8 443.57,552.14 446,552.47 448.38,552.82 450.76,553.18 453.18,553.58 455.66,554.03 458.13,554.5 460.61,554.99 463.08,555.5 465.55,556.04 468.02,556.6 470.51,557.19 473.04,557.79 475.56,558.42 478.05,559.07 480.49,559.76 482.85,560.47 484.92,561.12 486.92,561.78 488.88,562.45 490.82,563.18 492.76,563.97 494.72,564.86 496.9,565.97 499.13,567.23 501.36,568.57 503.53,569.94 505.62,571.27 507.58,572.51 509.03,573.42 510.4,574.28 511.72,575.13 513,575.97 514.25,576.85 515.49,577.79 516.7,578.76 517.88,579.74 519.03,580.75 520.17,581.81 521.29,582.95 522.41,584.18 523.81,585.84 525.25,587.67 526.68,589.6 528.03,591.58 529.25,593.56 530.28,595.46 530.98,597 531.56,598.51 532.05,600.02 532.47,601.53 532.85,603.07 533.22,604.65 533.58,606.36 533.89,608.09 534.15,609.84 534.39,611.64 534.6,613.48 534.8,615.38 535.01,617.66 535.18,620 535.32,622.4 535.45,624.88 535.57,627.45 535.72,630.12 535.91,633.61 536.1,637.27 536.29,641.08 536.48,644.98 536.68,648.92 536.88,652.86 537.1,657.15 537.32,661.53 537.54,665.97 537.76,670.41 537.99,674.82 538.22,679.15 538.45,683.17 538.68,687.14 538.91,691.07 539.15,694.99 539.38,698.93 539.6,702.89 539.81,706.94 540.01,711 540.21,715.08 540.41,719.16 540.61,723.24 540.81,727.31" fill="none" stroke="#f6663a" stroke-width="4.0" stroke-linejoin="round" stroke-linecap="square" clip-path="url(#clipc)"/>
<polyline points="192.79,480.27 228.1,515.85 248.67,530.25 263.3,535.28 265.7,535.74 268.09,536.23 270.48,536.72 272.87,537.19 275.26,537.61 277.65,537.98 279.98,538.27 282.3,538.51 284.62,538.71 286.94,538.89 289.27,539.05 291.59,539.21 293.91,539.36 296.22,539.5 298.52,539.62 300.84,539.73 303.18,539.84 305.54,539.95 307.94,540.06 310.25,540.16 312.58,540.25 315.03,540.35 317.73,540.49 320.77,540.67 327.39,541.16 335.31,541.81 343.98,542.56 352.88,543.34 361.48,544.08 369.23,544.72 374.78,545.13 380.09,545.49 385.21,545.83 390.18,546.17 395.05,546.54 399.89,546.97 404.17,547.41 408.33,547.89 412.42,548.39 416.48,548.9 420.53,549.42 424.62,549.95 428.77,550.46 432.96,550.98 437.16,551.5 441.31,552.05 445.39,552.62 449.34,553.23 452.79,553.81 456.15,554.41 459.45,555.03 462.7,555.69 465.92,556.37 469.12,557.09 472.2,557.81 475.28,558.55 478.34,559.31 481.33,560.12 484.2,560.97 486.92,561.89 489.08,562.7 491.14,563.55 493.13,564.43 495.05,565.34 496.93,566.29 498.79,567.27 500.5,568.19 502.14,569.12 503.75,570.07 505.35,571.08 506.99,572.18 508.68,573.39 510.98,575.12 513.43,577.04 515.92,579.1 518.36,581.24 520.66,583.42 522.73,585.59 524.36,587.46 525.89,589.35 527.31,591.26 528.61,593.22 529.79,595.24 530.82,597.33 531.69,599.53 532.4,601.82 532.97,604.17 533.45,606.55 533.86,608.95 534.24,611.34 534.55,613.73 534.76,616.09 534.9,618.47 535.01,620.91 535.12,623.43 535.26,626.08 535.47,629.56 535.69,633.23 535.9,637.04 536.11,640.93 536.33,644.87 536.54,648.82 536.77,653.1 536.99,657.49 537.22,661.93 537.45,666.37 537.68,670.78 537.9,675.1 538.13,679.13 538.35,683.1 538.58,687.03 538.8,690.95 539.02,694.88 539.24,698.85 539.45,702.9 539.65,706.96 539.84,711.03 540.04,715.11 540.23,719.19 540.43,723.27" fill="none" stroke="#e0347e" stroke-width="4.0" stroke-linejoin="round" stroke-linecap="square" clip-path="url(#clipc)"/>
<polyline points="180.68,476.7 215.99,513.11 236.56,529.05 251.19,534.68 253.59,535.22 255.98,535.78 258.37,536.34 260.76,536.88 263.15,537.38 265.54,537.8 267.86,538.15 270.19,538.45 272.51,538.7 274.83,538.92 277.16,539.12 279.48,539.31 281.8,539.48 284.1,539.63 286.41,539.76 288.73,539.87 291.07,539.98 293.43,540.09 295.83,540.2 298.14,540.28 300.46,540.36 302.92,540.45 305.62,540.57 308.66,540.73 315.28,541.17 323.2,541.76 331.87,542.44 340.77,543.15 349.36,543.81 357.12,544.36 362.67,544.7 367.98,544.99 373.09,545.26 378.06,545.52 382.94,545.81 387.78,546.15 392.06,546.51 396.22,546.89 400.31,547.3 404.36,547.72 408.42,548.15 412.51,548.58 416.66,549.02 420.85,549.46 425.05,549.91 429.2,550.37 433.27,550.86 437.23,551.38 440.66,551.86 444,552.34 447.27,552.85 450.51,553.38 453.75,553.94 457.01,554.55 460.33,555.2 463.66,555.88 466.99,556.59 470.3,557.35 473.57,558.15 476.79,559.02 479.83,559.88 482.83,560.75 485.8,561.67 488.74,562.67 491.67,563.78 494.59,565.02 497.76,566.51 500.96,568.15 504.16,569.91 507.28,571.76 510.28,573.68 513.09,575.65 515.5,577.45 517.85,579.31 520.09,581.23 522.19,583.21 524.12,585.24 525.85,587.34 527.19,589.27 528.37,591.24 529.42,593.27 530.35,595.33 531.2,597.44 531.97,599.59 532.67,601.89 533.26,604.29 533.76,606.74 534.18,609.17 534.53,611.51 534.84,613.69 535.03,615.23 535.16,616.62 535.25,617.97 535.33,619.34 535.4,620.83 535.49,622.51 535.66,625.67 535.83,629.25 535.99,633.12 536.15,637.16 536.31,641.24 536.47,645.25 536.64,649.54 536.8,653.92 536.97,658.36 537.13,662.81 537.3,667.21 537.47,671.54 537.64,675.56 537.81,679.53 537.99,683.46 538.16,687.39 538.33,691.32 538.49,695.28 538.65,699.33 538.8,703.4 538.95,707.47 539.1,711.55 539.24,715.63 539.39,719.7" fill="none" stroke="#b214dc" stroke-width="4.0" stroke-linejoin="round" stroke-linecap="square" clip-path="url(#clipc)"/>
<polyline points="169.84,473.51 205.15,510.75 225.72,528.23 240.36,534.34 242.75,534.93 245.14,535.54 247.54,536.16 249.93,536.75 252.32,537.29 254.7,537.75 257.03,538.13 259.35,538.46 261.68,538.73 264,538.98 266.32,539.19 268.65,539.4 270.96,539.59 273.27,539.74 275.58,539.87 277.9,539.98 280.23,540.09 282.59,540.2 284.99,540.31 287.3,540.4 289.63,540.49 292.09,540.59 294.78,540.7 297.82,540.86 304.45,541.27 312.37,541.81 321.04,542.42 329.94,543.06 338.53,543.65 346.29,544.14 351.84,544.46 357.15,544.73 362.26,544.98 367.23,545.22 372.11,545.46 376.95,545.74 381.22,546.01 385.39,546.27 389.48,546.54 393.53,546.83 397.58,547.14 401.67,547.48 405.83,547.86 410.02,548.27 414.21,548.7 418.36,549.14 422.44,549.6 426.4,550.04 429.83,550.43 433.16,550.8 436.44,551.18 439.68,551.58 442.91,552.02 446.18,552.52 449.48,553.08 452.79,553.68 456.08,554.33 459.38,555.01 462.67,555.73 465.96,556.46 469.29,557.21 472.66,557.96 476.02,558.74 479.35,559.58 482.6,560.48 485.74,561.48 488.53,562.48 491.26,563.53 493.92,564.64 496.52,565.82 499.07,567.07 501.56,568.39 503.95,569.75 506.29,571.19 508.57,572.69 510.8,574.26 512.95,575.87 515.02,577.53 516.91,579.15 518.76,580.83 520.54,582.55 522.23,584.31 523.83,586.11 525.3,587.94 526.57,589.65 527.75,591.38 528.84,593.14 529.85,594.95 530.76,596.82 531.57,598.77 532.32,600.96 532.93,603.24 533.43,605.6 533.85,608.01 534.21,610.44 534.54,612.86 534.82,615.42 535.02,618.02 535.15,620.65 535.24,623.28 535.33,625.87 535.44,628.42 535.56,630.69 535.67,632.87 535.77,635.02 535.87,637.22 535.98,639.54 536.08,642.06 536.24,645.96 536.41,650.24 536.58,654.76 536.75,659.37 536.91,663.95 537.05,668.35 537.18,672.37 537.31,676.34 537.43,680.27 537.54,684.2 537.65,688.13 537.74,692.09 537.83,696.14 537.9,700.21 537.97,704.28 538.04,708.36 538.1,712.44 538.17,716.51" fill="none" stroke="#6400e0" stroke-width="4.0" stroke-linejoin="round" stroke-linecap="square" clip-path="url(#clipc)"/>
<polyline points="160.04,470.63 195.35,508.1 215.92,526.02 230.56,532.48 232.95,533.12 235.34,533.79 237.73,534.46 240.13,535.1 242.51,535.69 244.9,536.21 247.23,536.64 249.55,537.01 251.87,537.33 254.2,537.61 256.52,537.87 258.85,538.12 261.16,538.34 263.47,538.53 265.78,538.69 268.1,538.83 270.43,538.97 272.79,539.12 275.19,539.27 277.5,539.41 279.83,539.54 282.29,539.68 284.98,539.84 288.02,540.03 294.65,540.5 302.57,541.1 311.24,541.76 320.14,542.44 328.73,543.06 336.49,543.58 342.04,543.9 347.34,544.18 352.46,544.43 357.43,544.66 362.31,544.89 367.15,545.12 371.55,545.34 376,545.54 380.37,545.74 384.56,545.95 388.43,546.17 391.87,546.4 393.73,546.55 395.33,546.7 396.81,546.85 398.29,547.01 399.9,547.19 401.76,547.4 405.42,547.8 409.67,548.28 414.26,548.8 418.92,549.34 423.41,549.85 427.48,550.31 430.33,550.61 433.01,550.88 435.59,551.13 438.12,551.39 440.67,551.69 443.3,552.04 446.18,552.48 449.13,552.97 452.1,553.5 455.03,554.05 457.89,554.6 460.61,555.13 462.79,555.56 464.88,555.98 466.91,556.41 468.91,556.84 470.92,557.29 472.97,557.77 475.17,558.29 477.42,558.83 479.67,559.39 481.9,559.97 484.06,560.58 486.13,561.22 487.83,561.8 489.47,562.38 491.06,562.99 492.62,563.62 494.17,564.31 495.72,565.04 497.33,565.87 498.91,566.76 500.48,567.69 502.05,568.67 503.63,569.67 505.22,570.68 506.93,571.78 508.68,572.91 510.43,574.06 512.17,575.26 513.86,576.49 515.5,577.78 517.09,579.11 518.66,580.5 520.18,581.92 521.66,583.39 523.07,584.89 524.4,586.42 525.62,587.91 526.79,589.42 527.9,590.96 528.93,592.55 529.88,594.18 530.73,595.88 531.49,597.69 532.14,599.54 532.7,601.45 533.18,603.43 533.61,605.48 534,607.61 534.38,610.29 534.65,613.03 534.83,615.88 534.97,618.88 535.11,622.09 535.28,625.53 535.59,631.32 535.9,637.81 536.21,644.74 536.5,651.84 536.79,658.84 537.06,665.46 537.3,671.18 537.51,676.76 537.73,682.26 537.93,687.71 538.14,693.17 538.35,698.67" fill="none" stroke="#2000f8" stroke-width="4.0" stroke-linejoin="round" stroke-linecap="square" clip-path="url(#clipc)"/>
<polyline points="791.7,470.3 852,506.5 859.5,510.33 892.5,527.2 899.2,529.05 901.83,529.79 904.46,530.54 907.09,531.3 909.73,532.04 912.36,532.75 915,533.4 917.59,533.98 920.17,534.5 922.74,534.98 925.34,535.46 927.99,535.94 930.7,536.45 933.8,537.04 936.97,537.62 940.21,538.22 943.47,538.83 946.74,539.49 950,540.2 953.29,540.99 956.52,541.83 959.75,542.71 963.07,543.63 966.53,544.56 970.2,545.5 975.38,546.77 980.98,548.11 986.83,549.48 992.73,550.85 998.52,552.17 1004,553.4 1008.67,554.42 1013.37,555.42 1017.97,556.39 1022.36,557.3 1026.41,558.14 1030,558.89 1031.87,559.28 1033.46,559.6 1034.92,559.9 1036.39,560.21 1038.04,560.56 1040,561 1044.63,562.06 1050.16,563.34 1056.27,564.78 1062.68,566.33 1069.05,567.93 1075.1,569.5 1080.92,571.06 1086.88,572.68 1092.81,574.34 1098.56,576.03 1103.98,577.72 1108.9,579.4 1112.13,580.58 1115.16,581.73 1118.01,582.89 1120.72,584.08 1123.3,585.34 1125.8,586.7 1127.9,587.99 1129.9,589.34 1131.81,590.75 1133.64,592.2 1135.4,593.65 1137.1,595.1 1138.57,596.36 1140,597.59 1141.37,598.83 1142.68,600.12 1143.91,601.5 1145.07,603 1146.26,604.83 1147.35,606.81 1148.36,608.9 1149.29,611.05 1150.16,613.23 1150.98,615.4 1151.73,617.61 1152.38,619.87 1152.96,622.16 1153.52,624.46 1154.1,626.74 1154.72,629 1155.39,631.15 1156.08,633.23 1156.77,635.29 1157.49,637.41 1158.21,639.62 1158.95,642 1159.97,645.39 1161.06,649.02 1162.16,652.83 1163.25,656.74 1164.29,660.69 1165.22,664.6 1166.06,668.55 1166.83,672.48 1167.53,676.44 1168.18,680.5 1168.81,684.74 1169.43,689.2 1170.18,695.27 1170.86,701.75 1171.5,708.5 1172.11,715.37 1172.73,722.25 1173.37,729" fill="none" stroke="#c8ff1a" stroke-width="4.0" stroke-linejoin="round" stroke-linecap="square" clip-path="url(#clipd)"/>
<polyline points="791.7,470.3 852,507.14 859.5,511.16 892.5,527.88 899.2,529.96 901.83,530.66 904.46,531.38 907.1,532.09 909.73,532.8 912.36,533.47 915,534.1 917.59,534.67 920.17,535.19 922.74,535.67 925.34,536.15 927.99,536.64 930.7,537.16 933.8,537.75 936.97,538.34 940.21,538.95 943.47,539.57 946.74,540.23 950,540.93 953.29,541.69 956.51,542.5 959.75,543.34 963.07,544.21 966.53,545.1 970.2,546.02 975.38,547.27 980.98,548.61 986.83,550 992.73,551.37 998.52,552.7 1004,553.92 1008.67,554.91 1013.36,555.88 1017.97,556.81 1022.36,557.68 1026.41,558.49 1030,559.22 1031.87,559.61 1033.46,559.94 1034.92,560.25 1036.39,560.57 1038.04,560.93 1040,561.37 1044.63,562.41 1050.16,563.68 1056.27,565.1 1062.68,566.62 1069.05,568.18 1075.1,569.73 1080.92,571.28 1086.88,572.89 1092.81,574.54 1098.56,576.22 1103.98,577.9 1108.9,579.57 1112.13,580.74 1115.16,581.87 1118.01,583.02 1120.71,584.19 1123.3,585.44 1125.8,586.78 1127.9,588.05 1129.9,589.4 1131.81,590.79 1133.64,592.22 1135.4,593.66 1137.1,595.1 1138.58,596.36 1140.01,597.59 1141.38,598.83 1142.69,600.12 1143.94,601.5 1145.11,603 1146.32,604.83 1147.43,606.81 1148.47,608.9 1149.43,611.05 1150.33,613.23 1151.18,615.4 1151.95,617.61 1152.63,619.87 1153.24,622.16 1153.83,624.46 1154.43,626.74 1155.09,629 1155.78,631.15 1156.49,633.23 1157.21,635.29 1157.95,637.41 1158.71,639.62 1159.48,642 1160.54,645.39 1161.67,649.02 1162.82,652.83 1163.96,656.74 1165.04,660.69 1166.02,664.6 1166.92,668.53 1167.73,672.41 1168.47,676.32 1169.18,680.36 1169.86,684.62 1170.55,689.2 1171.45,696.13 1172.3,703.68 1173.11,711.66 1173.9,719.84 1174.69,728.03 1175.49,736" fill="none" stroke="#fdad18" stroke-width="4.0" stroke-linejoin="round" stroke-linecap="square" clip-path="url(#clipd)"/>
<polyline points="791.7,470.3 852,507.77 859.5,511.99 892.5,528.55 899.2,530.86 901.83,531.53 904.47,532.21 907.1,532.89 909.73,533.55 912.36,534.2 915,534.8 917.6,535.36 920.17,535.87 922.75,536.37 925.35,536.85 927.99,537.35 930.7,537.87 933.8,538.46 936.97,539.06 940.2,539.68 943.47,540.31 946.74,540.96 950,541.65 953.29,542.4 956.51,543.17 959.75,543.96 963.07,544.79 966.53,545.65 970.2,546.53 975.38,547.77 980.98,549.11 986.83,550.51 992.73,551.89 998.52,553.22 1004,554.43 1008.67,555.41 1013.36,556.34 1017.97,557.23 1022.36,558.06 1026.41,558.84 1030,559.56 1031.87,559.95 1033.46,560.28 1034.92,560.6 1036.39,560.92 1038.04,561.29 1040,561.73 1044.63,562.77 1050.15,564.01 1056.27,565.41 1062.68,566.9 1069.05,568.44 1075.1,569.97 1080.92,571.5 1086.88,573.1 1092.81,574.74 1098.56,576.41 1103.98,578.08 1108.9,579.73 1112.13,580.89 1115.16,582.02 1118.01,583.14 1120.71,584.3 1123.3,585.54 1125.8,586.87 1127.9,588.12 1129.9,589.45 1131.81,590.83 1133.64,592.24 1135.4,593.67 1137.1,595.1 1138.58,596.35 1140,597.58 1141.37,598.82 1142.68,600.12 1143.92,601.5 1145.09,603 1146.28,604.83 1147.38,606.81 1148.39,608.9 1149.34,611.05 1150.22,613.23 1151.05,615.4 1151.81,617.61 1152.46,619.87 1153.05,622.16 1153.62,624.46 1154.21,626.74 1154.85,629 1155.52,631.15 1156.21,633.23 1156.92,635.29 1157.64,637.41 1158.38,639.62 1159.12,642 1160.16,645.39 1161.26,649.02 1162.38,652.83 1163.49,656.74 1164.54,660.69 1165.48,664.6 1166.35,668.56 1167.13,672.49 1167.85,676.46 1168.52,680.53 1169.17,684.75 1169.8,689.2 1170.56,695.15 1171.24,701.47 1171.89,708.04 1172.51,714.74 1173.13,721.43 1173.78,728" fill="none" stroke="#f6663a" stroke-width="4.0" stroke-linejoin="round" stroke-linecap="square" clip-path="url(#clipd)"/>
<polyline points="791.7,470.3 852,508.41 859.5,512.82 892.5,529.23 899.2,531.77 901.83,532.4 904.47,533.04 907.1,533.68 909.73,534.31 912.37,534.92 915,535.5 917.6,536.05 920.17,536.56 922.75,537.06 925.35,537.55 927.99,538.05 930.7,538.58 933.8,539.18 936.97,539.79 940.2,540.41 943.47,541.04 946.74,541.7 950,542.38 953.28,543.1 956.51,543.83 959.75,544.59 963.07,545.37 966.53,546.19 970.2,547.05 975.38,548.27 980.99,549.62 986.83,551.02 992.73,552.42 998.52,553.75 1004,554.95 1008.66,555.9 1013.36,556.8 1017.97,557.64 1022.36,558.44 1026.41,559.19 1030,559.89 1031.87,560.28 1033.46,560.62 1034.92,560.95 1036.39,561.28 1038.04,561.66 1040,562.1 1044.63,563.13 1050.15,564.35 1056.27,565.72 1062.68,567.18 1069.06,568.69 1075.1,570.2 1080.92,571.72 1086.88,573.31 1092.81,574.94 1098.56,576.6 1103.97,578.26 1108.9,579.9 1112.13,581.04 1115.15,582.16 1118.01,583.27 1120.71,584.42 1123.3,585.63 1125.8,586.95 1127.9,588.19 1129.9,589.5 1131.81,590.87 1133.64,592.26 1135.4,593.68 1137.1,595.1 1138.58,596.35 1140,597.58 1141.37,598.82 1142.68,600.11 1143.91,601.5 1145.07,603 1146.26,604.83 1147.35,606.81 1148.36,608.9 1149.29,611.05 1150.16,613.23 1150.98,615.4 1151.73,617.61 1152.38,619.87 1152.96,622.16 1153.52,624.46 1154.1,626.74 1154.72,629 1155.39,631.15 1156.08,633.23 1156.77,635.29 1157.49,637.41 1158.21,639.62 1158.95,642 1159.97,645.39 1161.06,649.02 1162.16,652.83 1163.25,656.74 1164.29,660.69 1165.22,664.6 1166.06,668.57 1166.83,672.52 1167.53,676.5 1168.19,680.58 1168.82,684.79 1169.43,689.2 1170.13,694.9 1170.77,700.91 1171.36,707.13 1171.93,713.45 1172.5,719.78 1173.09,726" fill="none" stroke="#e0347e" stroke-width="4.0" stroke-linejoin="round" stroke-linecap="square" clip-path="url(#clipd)"/>
<polyline points="791.7,470.3 852,509.05 859.5,513.64 892.5,529.91 899.2,532.68 901.83,533.27 904.47,533.87 907.1,534.47 909.73,535.06 912.37,535.64 915,536.21 917.6,536.74 920.17,537.25 922.75,537.75 925.35,538.25 927.99,538.76 930.7,539.28 933.8,539.89 936.97,540.51 940.2,541.14 943.46,541.78 946.74,542.43 950,543.11 953.28,543.8 956.51,544.5 959.75,545.21 963.07,545.95 966.53,546.73 970.2,547.57 975.38,548.77 980.99,550.12 986.83,551.53 992.73,552.94 998.51,554.27 1004,555.47 1008.66,556.39 1013.36,557.25 1017.97,558.06 1022.36,558.82 1026.41,559.54 1030,560.23 1031.87,560.62 1033.46,560.96 1034.92,561.3 1036.39,561.64 1038.04,562.02 1040,562.47 1044.63,563.49 1050.15,564.69 1056.27,566.03 1062.68,567.46 1069.06,568.94 1075.1,570.43 1080.92,571.94 1086.88,573.51 1092.81,575.14 1098.56,576.79 1103.97,578.44 1108.9,580.07 1112.13,581.2 1115.15,582.3 1118,583.4 1120.71,584.53 1123.3,585.73 1125.8,587.03 1127.9,588.26 1129.9,589.56 1131.81,590.9 1133.64,592.29 1135.4,593.69 1137.1,595.1 1138.58,596.34 1140,597.57 1141.37,598.82 1142.68,600.11 1143.91,601.49 1145.07,603 1146.26,604.83 1147.35,606.81 1148.36,608.9 1149.29,611.05 1150.16,613.23 1150.98,615.4 1151.73,617.61 1152.38,619.87 1152.96,622.16 1153.52,624.46 1154.1,626.74 1154.72,629 1155.39,631.15 1156.08,633.23 1156.77,635.29 1157.49,637.41 1158.21,639.62 1158.95,642 1159.97,645.39 1161.06,649.02 1162.16,652.83 1163.25,656.74 1164.29,660.69 1165.22,664.6 1166.06,668.57 1166.83,672.54 1167.54,676.54 1168.2,680.63 1168.82,684.83 1169.43,689.2 1170.11,694.64 1170.71,700.34 1171.27,706.22 1171.81,712.17 1172.35,718.13 1172.91,724" fill="none" stroke="#b214dc" stroke-width="4.0" stroke-linejoin="round" stroke-linecap="square" clip-path="url(#clipd)"/>
<polyline points="791.7,470.3 852,509.69 859.5,514.47 892.5,530.58 899.2,533.59 901.83,534.15 904.47,534.7 907.1,535.26 909.74,535.82 912.37,536.37 915,536.91 917.6,537.43 920.18,537.94 922.75,538.44 925.35,538.95 927.99,539.46 930.7,539.99 933.8,540.6 936.97,541.23 940.2,541.87 943.46,542.51 946.74,543.17 950,543.83 953.28,544.5 956.51,545.17 959.75,545.84 963.07,546.54 966.53,547.28 970.2,548.08 975.39,549.28 980.99,550.62 986.83,552.04 992.73,553.46 998.51,554.8 1004,555.98 1008.66,556.88 1013.36,557.71 1017.97,558.48 1022.36,559.2 1026.41,559.89 1030,560.56 1031.87,560.95 1033.46,561.31 1034.92,561.64 1036.39,562 1038.04,562.38 1040,562.83 1044.63,563.85 1050.15,565.03 1056.27,566.34 1062.68,567.74 1069.06,569.2 1075.1,570.67 1080.92,572.16 1086.88,573.72 1092.81,575.34 1098.56,576.98 1103.97,578.62 1108.9,580.23 1112.13,581.35 1115.15,582.44 1118,583.52 1120.71,584.64 1123.3,585.83 1125.8,587.12 1127.9,588.33 1129.9,589.61 1131.81,590.94 1133.64,592.31 1135.4,593.7 1137.1,595.1 1138.58,596.34 1140.01,597.57 1141.38,598.81 1142.69,600.11 1143.93,601.49 1145.1,603 1146.3,604.83 1147.41,606.81 1148.43,608.9 1149.38,611.05 1150.27,613.23 1151.11,615.4 1151.88,617.61 1152.54,619.87 1153.15,622.16 1153.72,624.46 1154.32,626.74 1154.97,629 1155.65,631.15 1156.35,633.23 1157.07,635.29 1157.8,637.41 1158.54,639.62 1159.3,642 1160.35,645.39 1161.46,649.02 1162.6,652.83 1163.73,656.74 1164.79,660.69 1165.75,664.6 1166.64,668.58 1167.44,672.56 1168.18,676.58 1168.87,680.67 1169.53,684.87 1170.17,689.2 1170.87,694.42 1171.49,699.86 1172.07,705.43 1172.63,711.08 1173.18,716.72 1173.76,722.3" fill="none" stroke="#6400e0" stroke-width="4.0" stroke-linejoin="round" stroke-linecap="square" clip-path="url(#clipd)"/>
<polyline points="791.7,470.3 852,510.32 859.5,515.3 892.5,531.26 899.2,534.5 901.83,535.02 904.47,535.54 907.1,536.06 909.74,536.57 912.37,537.09 915,537.61 917.6,538.12 920.18,538.63 922.75,539.13 925.35,539.64 927.99,540.16 930.7,540.7 933.8,541.32 936.97,541.95 940.2,542.6 943.46,543.25 946.73,543.91 950,544.56 953.28,545.21 956.51,545.83 959.75,546.46 963.07,547.12 966.53,547.82 970.2,548.6 975.39,549.78 980.99,551.12 986.83,552.55 992.73,553.98 998.51,555.32 1004,556.5 1008.66,557.38 1013.36,558.17 1017.97,558.9 1022.36,559.58 1026.41,560.24 1030,560.9 1031.87,561.29 1033.46,561.65 1034.92,561.99 1036.39,562.35 1038.04,562.75 1040,563.2 1044.62,564.2 1050.15,565.37 1056.27,566.65 1062.68,568.03 1069.06,569.45 1075.1,570.9 1080.92,572.38 1086.88,573.93 1092.81,575.54 1098.56,577.17 1103.97,578.8 1108.9,580.4 1112.13,581.51 1115.15,582.58 1118,583.65 1120.71,584.75 1123.3,585.93 1125.8,587.2 1127.9,588.4 1129.9,589.66 1131.81,590.98 1133.65,592.33 1135.41,593.71 1137.1,595.1 1138.57,596.34 1139.99,597.56 1141.35,598.81 1142.65,600.1 1143.86,601.49 1145,603 1146.15,604.83 1147.19,606.81 1148.14,608.9 1149.02,611.05 1149.83,613.23 1150.6,615.4 1151.29,617.61 1151.88,619.87 1152.41,622.16 1152.91,624.46 1153.43,626.74 1154,629 1154.61,631.15 1155.24,633.23 1155.89,635.29 1156.55,637.41 1157.22,639.63 1157.9,642 1158.84,645.39 1159.83,649.02 1160.84,652.83 1161.84,656.74 1162.77,660.69 1163.6,664.6 1164.35,668.59 1165.02,672.59 1165.63,676.63 1166.19,680.73 1166.71,684.91 1167.2,689.2 1167.7,694.19 1168.13,699.35 1168.51,704.61 1168.86,709.92 1169.22,715.24 1169.6,720.5" fill="none" stroke="#2000f8" stroke-width="4.0" stroke-linejoin="round" stroke-linecap="square" clip-path="url(#clipd)"/>
<line x1="279" y1="310.3" x2="279" y2="297.3" stroke="#000" stroke-width="3.0"/>
<line x1="279" y1="16.5" x2="279" y2="29.5" stroke="#000" stroke-width="3.0"/>
<line x1="516" y1="310.3" x2="516" y2="297.3" stroke="#000" stroke-width="3.0"/>
<line x1="516" y1="16.5" x2="516" y2="29.5" stroke="#000" stroke-width="3.0"/>
<line x1="141" y1="29.7" x2="154" y2="29.7" stroke="#000" stroke-width="3.0"/>
<line x1="562.6" y1="29.7" x2="549.6" y2="29.7" stroke="#000" stroke-width="3.0"/>
<line x1="141" y1="190" x2="154" y2="190" stroke="#000" stroke-width="3.0"/>
<line x1="562.6" y1="190" x2="549.6" y2="190" stroke="#000" stroke-width="3.0"/>
<line x1="792.8" y1="310.3" x2="792.8" y2="297.3" stroke="#000" stroke-width="3.0"/>
<line x1="792.8" y1="16.5" x2="792.8" y2="29.5" stroke="#000" stroke-width="3.0"/>
<line x1="1019" y1="310.3" x2="1019" y2="297.3" stroke="#000" stroke-width="3.0"/>
<line x1="1019" y1="16.5" x2="1019" y2="29.5" stroke="#000" stroke-width="3.0"/>
<line x1="782.45" y1="310.3" x2="782.45" y2="302.8" stroke="#000" stroke-width="2.3"/>
<line x1="782.45" y1="16.5" x2="782.45" y2="24" stroke="#000" stroke-width="2.3"/>
<line x1="860.89" y1="310.3" x2="860.89" y2="302.8" stroke="#000" stroke-width="2.3"/>
<line x1="860.89" y1="16.5" x2="860.89" y2="24" stroke="#000" stroke-width="2.3"/>
<line x1="900.72" y1="310.3" x2="900.72" y2="302.8" stroke="#000" stroke-width="2.3"/>
<line x1="900.72" y1="16.5" x2="900.72" y2="24" stroke="#000" stroke-width="2.3"/>
<line x1="928.99" y1="310.3" x2="928.99" y2="302.8" stroke="#000" stroke-width="2.3"/>
<line x1="928.99" y1="16.5" x2="928.99" y2="24" stroke="#000" stroke-width="2.3"/>
<line x1="950.91" y1="310.3" x2="950.91" y2="302.8" stroke="#000" stroke-width="2.3"/>
<line x1="950.91" y1="16.5" x2="950.91" y2="24" stroke="#000" stroke-width="2.3"/>
<line x1="968.82" y1="310.3" x2="968.82" y2="302.8" stroke="#000" stroke-width="2.3"/>
<line x1="968.82" y1="16.5" x2="968.82" y2="24" stroke="#000" stroke-width="2.3"/>
<line x1="983.96" y1="310.3" x2="983.96" y2="302.8" stroke="#000" stroke-width="2.3"/>
<line x1="983.96" y1="16.5" x2="983.96" y2="24" stroke="#000" stroke-width="2.3"/>
<line x1="997.08" y1="310.3" x2="997.08" y2="302.8" stroke="#000" stroke-width="2.3"/>
<line x1="997.08" y1="16.5" x2="997.08" y2="24" stroke="#000" stroke-width="2.3"/>
<line x1="1008.65" y1="310.3" x2="1008.65" y2="302.8" stroke="#000" stroke-width="2.3"/>
<line x1="1008.65" y1="16.5" x2="1008.65" y2="24" stroke="#000" stroke-width="2.3"/>
<line x1="1087.09" y1="310.3" x2="1087.09" y2="302.8" stroke="#000" stroke-width="2.3"/>
<line x1="1087.09" y1="16.5" x2="1087.09" y2="24" stroke="#000" stroke-width="2.3"/>
<line x1="1126.92" y1="310.3" x2="1126.92" y2="302.8" stroke="#000" stroke-width="2.3"/>
<line x1="1126.92" y1="16.5" x2="1126.92" y2="24" stroke="#000" stroke-width="2.3"/>
<line x1="1155.19" y1="310.3" x2="1155.19" y2="302.8" stroke="#000" stroke-width="2.3"/>
<line x1="1155.19" y1="16.5" x2="1155.19" y2="24" stroke="#000" stroke-width="2.3"/>
<line x1="1177.11" y1="310.3" x2="1177.11" y2="302.8" stroke="#000" stroke-width="2.3"/>
<line x1="1177.11" y1="16.5" x2="1177.11" y2="24" stroke="#000" stroke-width="2.3"/>
<line x1="773.6" y1="29.8" x2="786.6" y2="29.8" stroke="#000" stroke-width="3.0"/>
<line x1="1195.6" y1="29.8" x2="1182.6" y2="29.8" stroke="#000" stroke-width="3.0"/>
<line x1="773.6" y1="190" x2="786.6" y2="190" stroke="#000" stroke-width="3.0"/>
<line x1="1195.6" y1="190" x2="1182.6" y2="190" stroke="#000" stroke-width="3.0"/>
<line x1="245.7" y1="750.7" x2="245.7" y2="737.7" stroke="#000" stroke-width="3.0"/>
<line x1="245.7" y1="456.8" x2="245.7" y2="469.8" stroke="#000" stroke-width="3.0"/>
<line x1="362.9" y1="750.7" x2="362.9" y2="737.7" stroke="#000" stroke-width="3.0"/>
<line x1="362.9" y1="456.8" x2="362.9" y2="469.8" stroke="#000" stroke-width="3.0"/>
<line x1="480.1" y1="750.7" x2="480.1" y2="737.7" stroke="#000" stroke-width="3.0"/>
<line x1="480.1" y1="456.8" x2="480.1" y2="469.8" stroke="#000" stroke-width="3.0"/>
<line x1="163.78" y1="750.7" x2="163.78" y2="743.2" stroke="#000" stroke-width="2.3"/>
<line x1="163.78" y1="456.8" x2="163.78" y2="464.3" stroke="#000" stroke-width="2.3"/>
<line x1="184.42" y1="750.7" x2="184.42" y2="743.2" stroke="#000" stroke-width="2.3"/>
<line x1="184.42" y1="456.8" x2="184.42" y2="464.3" stroke="#000" stroke-width="2.3"/>
<line x1="199.06" y1="750.7" x2="199.06" y2="743.2" stroke="#000" stroke-width="2.3"/>
<line x1="199.06" y1="456.8" x2="199.06" y2="464.3" stroke="#000" stroke-width="2.3"/>
<line x1="210.42" y1="750.7" x2="210.42" y2="743.2" stroke="#000" stroke-width="2.3"/>
<line x1="210.42" y1="456.8" x2="210.42" y2="464.3" stroke="#000" stroke-width="2.3"/>
<line x1="219.7" y1="750.7" x2="219.7" y2="743.2" stroke="#000" stroke-width="2.3"/>
<line x1="219.7" y1="456.8" x2="219.7" y2="464.3" stroke="#000" stroke-width="2.3"/>
<line x1="227.55" y1="750.7" x2="227.55" y2="743.2" stroke="#000" stroke-width="2.3"/>
<line x1="227.55" y1="456.8" x2="227.55" y2="464.3" stroke="#000" stroke-width="2.3"/>
<line x1="234.34" y1="750.7" x2="234.34" y2="743.2" stroke="#000" stroke-width="2.3"/>
<line x1="234.34" y1="456.8" x2="234.34" y2="464.3" stroke="#000" stroke-width="2.3"/>
<line x1="240.34" y1="750.7" x2="240.34" y2="743.2" stroke="#000" stroke-width="2.3"/>
<line x1="240.34" y1="456.8" x2="240.34" y2="464.3" stroke="#000" stroke-width="2.3"/>
<line x1="280.98" y1="750.7" x2="280.98" y2="743.2" stroke="#000" stroke-width="2.3"/>
<line x1="280.98" y1="456.8" x2="280.98" y2="464.3" stroke="#000" stroke-width="2.3"/>
<line x1="301.62" y1="750.7" x2="301.62" y2="743.2" stroke="#000" stroke-width="2.3"/>
<line x1="301.62" y1="456.8" x2="301.62" y2="464.3" stroke="#000" stroke-width="2.3"/>
<line x1="316.26" y1="750.7" x2="316.26" y2="743.2" stroke="#000" stroke-width="2.3"/>
<line x1="316.26" y1="456.8" x2="316.26" y2="464.3" stroke="#000" stroke-width="2.3"/>
<line x1="327.62" y1="750.7" x2="327.62" y2="743.2" stroke="#000" stroke-width="2.3"/>
<line x1="327.62" y1="456.8" x2="327.62" y2="464.3" stroke="#000" stroke-width="2.3"/>
<line x1="336.9" y1="750.7" x2="336.9" y2="743.2" stroke="#000" stroke-width="2.3"/>
<line x1="336.9" y1="456.8" x2="336.9" y2="464.3" stroke="#000" stroke-width="2.3"/>
<line x1="344.75" y1="750.7" x2="344.75" y2="743.2" stroke="#000" stroke-width="2.3"/>
<line x1="344.75" y1="456.8" x2="344.75" y2="464.3" stroke="#000" stroke-width="2.3"/>
<line x1="351.54" y1="750.7" x2="351.54" y2="743.2" stroke="#000" stroke-width="2.3"/>
<line x1="351.54" y1="456.8" x2="351.54" y2="464.3" stroke="#000" stroke-width="2.3"/>
<line x1="357.54" y1="750.7" x2="357.54" y2="743.2" stroke="#000" stroke-width="2.3"/>
<line x1="357.54" y1="456.8" x2="357.54" y2="464.3" stroke="#000" stroke-width="2.3"/>
<line x1="398.18" y1="750.7" x2="398.18" y2="743.2" stroke="#000" stroke-width="2.3"/>
<line x1="398.18" y1="456.8" x2="398.18" y2="464.3" stroke="#000" stroke-width="2.3"/>
<line x1="418.82" y1="750.7" x2="418.82" y2="743.2" stroke="#000" stroke-width="2.3"/>
<line x1="418.82" y1="456.8" x2="418.82" y2="464.3" stroke="#000" stroke-width="2.3"/>
<line x1="433.46" y1="750.7" x2="433.46" y2="743.2" stroke="#000" stroke-width="2.3"/>
<line x1="433.46" y1="456.8" x2="433.46" y2="464.3" stroke="#000" stroke-width="2.3"/>
<line x1="444.82" y1="750.7" x2="444.82" y2="743.2" stroke="#000" stroke-width="2.3"/>
<line x1="444.82" y1="456.8" x2="444.82" y2="464.3" stroke="#000" stroke-width="2.3"/>
<line x1="454.1" y1="750.7" x2="454.1" y2="743.2" stroke="#000" stroke-width="2.3"/>
<line x1="454.1" y1="456.8" x2="454.1" y2="464.3" stroke="#000" stroke-width="2.3"/>
<line x1="461.95" y1="750.7" x2="461.95" y2="743.2" stroke="#000" stroke-width="2.3"/>
<line x1="461.95" y1="456.8" x2="461.95" y2="464.3" stroke="#000" stroke-width="2.3"/>
<line x1="468.74" y1="750.7" x2="468.74" y2="743.2" stroke="#000" stroke-width="2.3"/>
<line x1="468.74" y1="456.8" x2="468.74" y2="464.3" stroke="#000" stroke-width="2.3"/>
<line x1="474.74" y1="750.7" x2="474.74" y2="743.2" stroke="#000" stroke-width="2.3"/>
<line x1="474.74" y1="456.8" x2="474.74" y2="464.3" stroke="#000" stroke-width="2.3"/>
<line x1="515.38" y1="750.7" x2="515.38" y2="743.2" stroke="#000" stroke-width="2.3"/>
<line x1="515.38" y1="456.8" x2="515.38" y2="464.3" stroke="#000" stroke-width="2.3"/>
<line x1="536.02" y1="750.7" x2="536.02" y2="743.2" stroke="#000" stroke-width="2.3"/>
<line x1="536.02" y1="456.8" x2="536.02" y2="464.3" stroke="#000" stroke-width="2.3"/>
<line x1="550.66" y1="750.7" x2="550.66" y2="743.2" stroke="#000" stroke-width="2.3"/>
<line x1="550.66" y1="456.8" x2="550.66" y2="464.3" stroke="#000" stroke-width="2.3"/>
<line x1="562.02" y1="750.7" x2="562.02" y2="743.2" stroke="#000" stroke-width="2.3"/>
<line x1="562.02" y1="456.8" x2="562.02" y2="464.3" stroke="#000" stroke-width="2.3"/>
<line x1="141.1" y1="488.1" x2="154.1" y2="488.1" stroke="#000" stroke-width="3.0"/>
<line x1="562.5" y1="488.1" x2="549.5" y2="488.1" stroke="#000" stroke-width="3.0"/>
<line x1="141.1" y1="633.9" x2="154.1" y2="633.9" stroke="#000" stroke-width="3.0"/>
<line x1="562.5" y1="633.9" x2="549.5" y2="633.9" stroke="#000" stroke-width="3.0"/>
<line x1="793.5" y1="750.8" x2="793.5" y2="737.8" stroke="#000" stroke-width="3.0"/>
<line x1="793.5" y1="456.9" x2="793.5" y2="469.9" stroke="#000" stroke-width="3.0"/>
<line x1="1017.8" y1="750.8" x2="1017.8" y2="737.8" stroke="#000" stroke-width="3.0"/>
<line x1="1017.8" y1="456.9" x2="1017.8" y2="469.9" stroke="#000" stroke-width="3.0"/>
<line x1="783.24" y1="750.8" x2="783.24" y2="743.3" stroke="#000" stroke-width="2.3"/>
<line x1="783.24" y1="456.9" x2="783.24" y2="464.4" stroke="#000" stroke-width="2.3"/>
<line x1="861.02" y1="750.8" x2="861.02" y2="743.3" stroke="#000" stroke-width="2.3"/>
<line x1="861.02" y1="456.9" x2="861.02" y2="464.4" stroke="#000" stroke-width="2.3"/>
<line x1="900.52" y1="750.8" x2="900.52" y2="743.3" stroke="#000" stroke-width="2.3"/>
<line x1="900.52" y1="456.9" x2="900.52" y2="464.4" stroke="#000" stroke-width="2.3"/>
<line x1="928.54" y1="750.8" x2="928.54" y2="743.3" stroke="#000" stroke-width="2.3"/>
<line x1="928.54" y1="456.9" x2="928.54" y2="464.4" stroke="#000" stroke-width="2.3"/>
<line x1="950.28" y1="750.8" x2="950.28" y2="743.3" stroke="#000" stroke-width="2.3"/>
<line x1="950.28" y1="456.9" x2="950.28" y2="464.4" stroke="#000" stroke-width="2.3"/>
<line x1="968.04" y1="750.8" x2="968.04" y2="743.3" stroke="#000" stroke-width="2.3"/>
<line x1="968.04" y1="456.9" x2="968.04" y2="464.4" stroke="#000" stroke-width="2.3"/>
<line x1="983.06" y1="750.8" x2="983.06" y2="743.3" stroke="#000" stroke-width="2.3"/>
<line x1="983.06" y1="456.9" x2="983.06" y2="464.4" stroke="#000" stroke-width="2.3"/>
<line x1="996.06" y1="750.8" x2="996.06" y2="743.3" stroke="#000" stroke-width="2.3"/>
<line x1="996.06" y1="456.9" x2="996.06" y2="464.4" stroke="#000" stroke-width="2.3"/>
<line x1="1007.54" y1="750.8" x2="1007.54" y2="743.3" stroke="#000" stroke-width="2.3"/>
<line x1="1007.54" y1="456.9" x2="1007.54" y2="464.4" stroke="#000" stroke-width="2.3"/>
<line x1="1085.32" y1="750.8" x2="1085.32" y2="743.3" stroke="#000" stroke-width="2.3"/>
<line x1="1085.32" y1="456.9" x2="1085.32" y2="464.4" stroke="#000" stroke-width="2.3"/>
<line x1="1124.82" y1="750.8" x2="1124.82" y2="743.3" stroke="#000" stroke-width="2.3"/>
<line x1="1124.82" y1="456.9" x2="1124.82" y2="464.4" stroke="#000" stroke-width="2.3"/>
<line x1="1152.84" y1="750.8" x2="1152.84" y2="743.3" stroke="#000" stroke-width="2.3"/>
<line x1="1152.84" y1="456.9" x2="1152.84" y2="464.4" stroke="#000" stroke-width="2.3"/>
<line x1="1174.58" y1="750.8" x2="1174.58" y2="743.3" stroke="#000" stroke-width="2.3"/>
<line x1="1174.58" y1="456.9" x2="1174.58" y2="464.4" stroke="#000" stroke-width="2.3"/>
<line x1="1192.34" y1="750.8" x2="1192.34" y2="743.3" stroke="#000" stroke-width="2.3"/>
<line x1="1192.34" y1="456.9" x2="1192.34" y2="464.4" stroke="#000" stroke-width="2.3"/>
<line x1="773.6" y1="461.8" x2="786.6" y2="461.8" stroke="#000" stroke-width="3.0"/>
<line x1="1195.5" y1="461.8" x2="1182.5" y2="461.8" stroke="#000" stroke-width="3.0"/>
<line x1="773.6" y1="612.3" x2="786.6" y2="612.3" stroke="#000" stroke-width="3.0"/>
<line x1="1195.5" y1="612.3" x2="1182.5" y2="612.3" stroke="#000" stroke-width="3.0"/>
<rect x="141.0" y="16.5" width="421.6" height="293.8" fill="none" stroke="#000" stroke-width="3.0" stroke-linejoin="miter"/>
<rect x="773.6" y="16.5" width="422" height="293.8" fill="none" stroke="#000" stroke-width="3.0" stroke-linejoin="miter"/>
<rect x="141.1" y="456.8" width="421.4" height="293.9" fill="none" stroke="#000" stroke-width="3.0" stroke-linejoin="miter"/>
<rect x="773.6" y="456.9" width="421.9" height="293.9" fill="none" stroke="#000" stroke-width="3.0" stroke-linejoin="miter"/>
<rect x="1228.3" y="207.25" width="43.5" height="5.5" fill="#c8ff1a"/>
<rect x="1228.3" y="267" width="43.5" height="5.5" fill="#fdad18"/>
<rect x="1228.3" y="326.75" width="43.5" height="5.5" fill="#f6663a"/>
<rect x="1228.3" y="386.5" width="43.5" height="5.5" fill="#e0347e"/>
<rect x="1228.3" y="446.25" width="43.5" height="5.5" fill="#b214dc"/>
<rect x="1228.3" y="506" width="43.5" height="5.5" fill="#6400e0"/>
<rect x="1228.3" y="565.75" width="43.5" height="5.5" fill="#2000f8"/>
<g style="will-change:transform"><text x="0" y="0" style="font-family:'Liberation Serif', serif;font-size:100px;font-weight:bold;" transform="translate(-0.87,39.75) scale(0.6244,0.5521)" stroke="#fff" stroke-width="0.25" vector-effect="non-scaling-stroke">a</text>
<text x="0" y="0" style="font-family:'Liberation Serif', serif;font-size:100px;" transform="translate(30.39,40.63) scale(0.5692,0.6033)" stroke="#fff" stroke-width="0.25" vector-effect="non-scaling-stroke">)</text>
<text x="0" y="0" style="font-family:'Liberation Serif', serif;font-size:100px;font-weight:bold;" transform="translate(627.51,39.56) scale(0.5941,0.5429)" stroke="#fff" stroke-width="0.25" vector-effect="non-scaling-stroke">b</text>
<text x="0" y="0" style="font-family:'Liberation Serif', serif;font-size:100px;" transform="translate(661.15,40.48) scale(0.5846,0.6011)" stroke="#fff" stroke-width="0.25" vector-effect="non-scaling-stroke">)</text>
<text x="0" y="0" style="font-family:'Liberation Serif', serif;font-size:100px;font-weight:bold;" transform="translate(17.38,433.28) scale(0.6077,0.5250)" stroke="#fff" stroke-width="0.25" vector-effect="non-scaling-stroke">c</text>
<text x="0" y="0" style="font-family:'Liberation Serif', serif;font-size:100px;" transform="translate(46.20,434.43) scale(0.5654,0.6033)" stroke="#fff" stroke-width="0.25" vector-effect="non-scaling-stroke">)</text>
<text x="0" y="0" style="font-family:'Liberation Serif', serif;font-size:100px;font-weight:bold;" transform="translate(636.79,433.25) scale(0.6020,0.5500)" stroke="#fff" stroke-width="0.25" vector-effect="non-scaling-stroke">d</text>
<text x="0" y="0" style="font-family:'Liberation Serif', serif;font-size:100px;" transform="translate(672.37,434.31) scale(0.5769,0.6089)" stroke="#fff" stroke-width="0.25" vector-effect="non-scaling-stroke">)</text>
<text x="0" y="0" style="font-family:'Liberation Serif', serif;font-size:100px;" transform="translate(74.92,42.65) scale(0.3862,0.3765)" stroke="#fff" stroke-width="0.25" vector-effect="non-scaling-stroke">10</text>
<text x="0" y="0" style="font-family:'Liberation Serif', serif;font-size:100px;" transform="translate(112.78,29.07) scale(0.3048,0.2657)" stroke="#fff" stroke-width="0.25" vector-effect="non-scaling-stroke">0</text>
<text x="0" y="0" style="font-family:'Liberation Serif', serif;font-size:100px;" transform="translate(51.26,203.23) scale(0.3931,0.3853)" stroke="#fff" stroke-width="0.25" vector-effect="non-scaling-stroke">10</text>
<text x="0" y="0" style="font-family:'Liberation Serif', serif;font-size:100px;" transform="translate(112.45,190.12) scale(0.3098,0.2818)" stroke="#fff" stroke-width="0.25" vector-effect="non-scaling-stroke">3</text>
<text x="0" y="0" style="font-family:'Liberation Serif', serif;font-size:100px;" transform="translate(252.01,349.43) scale(0.3874,0.3838)" stroke="#fff" stroke-width="0.25" vector-effect="non-scaling-stroke">10</text>
<text x="0" y="0" style="font-family:'Liberation Serif', serif;font-size:100px;" transform="translate(289.88,336.30) scale(0.2914,0.2773)" stroke="#fff" stroke-width="0.25" vector-effect="non-scaling-stroke">1</text>
<text x="0" y="0" style="font-family:'Liberation Serif', serif;font-size:100px;" transform="translate(488.81,349.63) scale(0.3874,0.3868)" stroke="#fff" stroke-width="0.25" vector-effect="non-scaling-stroke">10</text>
<text x="0" y="0" style="font-family:'Liberation Serif', serif;font-size:100px;" transform="translate(527.10,336.42) scale(0.3000,0.2803)" stroke="#fff" stroke-width="0.25" vector-effect="non-scaling-stroke">3</text>
<text x="0" y="0" style="font-family:'Liberation Serif', serif;font-size:100px;" transform="translate(707.52,42.65) scale(0.3862,0.3765)" stroke="#fff" stroke-width="0.25" vector-effect="non-scaling-stroke">10</text>
<text x="0" y="0" style="font-family:'Liberation Serif', serif;font-size:100px;" transform="translate(745.38,29.07) scale(0.3048,0.2657)" stroke="#fff" stroke-width="0.25" vector-effect="non-scaling-stroke">0</text>
<text x="0" y="0" style="font-family:'Liberation Serif', serif;font-size:100px;" transform="translate(683.86,203.23) scale(0.3931,0.3853)" stroke="#fff" stroke-width="0.25" vector-effect="non-scaling-stroke">10</text>
<text x="0" y="0" style="font-family:'Liberation Serif', serif;font-size:100px;" transform="translate(745.05,190.12) scale(0.3098,0.2818)" stroke="#fff" stroke-width="0.25" vector-effect="non-scaling-stroke">3</text>
<text x="0" y="0" style="font-family:'Liberation Serif', serif;font-size:100px;" transform="translate(765.77,349.43) scale(0.3816,0.3838)" stroke="#fff" stroke-width="0.25" vector-effect="non-scaling-stroke">10</text>
<text x="0" y="0" style="font-family:'Liberation Serif', serif;font-size:100px;" transform="translate(803.36,335.86) scale(0.3095,0.2687)" stroke="#fff" stroke-width="0.25" vector-effect="non-scaling-stroke">0</text>
<text x="0" y="0" style="font-family:'Liberation Serif', serif;font-size:100px;" transform="translate(992.11,349.43) scale(0.3874,0.3838)" stroke="#fff" stroke-width="0.25" vector-effect="non-scaling-stroke">10</text>
<text x="0" y="0" style="font-family:'Liberation Serif', serif;font-size:100px;" transform="translate(1029.98,336.30) scale(0.2914,0.2773)" stroke="#fff" stroke-width="0.25" vector-effect="non-scaling-stroke">1</text>
<text x="0" y="0" style="font-family:'Liberation Serif', serif;font-size:100px;" transform="translate(75.49,501.04) scale(0.3793,0.3824)" stroke="#fff" stroke-width="0.25" vector-effect="non-scaling-stroke">10</text>
<text x="0" y="0" style="font-family:'Liberation Serif', serif;font-size:100px;" transform="translate(112.89,487.53) scale(0.3024,0.2682)" stroke="#fff" stroke-width="0.25" vector-effect="non-scaling-stroke">3</text>
<text x="0" y="0" style="font-family:'Liberation Serif', serif;font-size:100px;" transform="translate(75.49,646.94) scale(0.3793,0.3824)" stroke="#fff" stroke-width="0.25" vector-effect="non-scaling-stroke">10</text>
<text x="0" y="0" style="font-family:'Liberation Serif', serif;font-size:100px;" transform="translate(112.86,633.46) scale(0.3095,0.2687)" stroke="#fff" stroke-width="0.25" vector-effect="non-scaling-stroke">0</text>
<text x="0" y="0" style="font-family:'Liberation Serif', serif;font-size:100px;" transform="translate(207.43,789.84) scale(0.3851,0.3779)" stroke="#fff" stroke-width="0.25" vector-effect="non-scaling-stroke">10</text>
<text x="0" y="0" style="font-family:'Liberation Serif', serif;font-size:100px;" transform="translate(269.22,776.50) scale(0.2913,0.2769)" stroke="#fff" stroke-width="0.25" vector-effect="non-scaling-stroke">4</text>
<text x="0" y="0" style="font-family:'Liberation Serif', serif;font-size:100px;" transform="translate(324.63,789.84) scale(0.3851,0.3779)" stroke="#fff" stroke-width="0.25" vector-effect="non-scaling-stroke">10</text>
<text x="0" y="0" style="font-family:'Liberation Serif', serif;font-size:100px;" transform="translate(385.69,776.72) scale(0.3024,0.2803)" stroke="#fff" stroke-width="0.25" vector-effect="non-scaling-stroke">3</text>
<text x="0" y="0" style="font-family:'Liberation Serif', serif;font-size:100px;" transform="translate(441.83,789.84) scale(0.3851,0.3779)" stroke="#fff" stroke-width="0.25" vector-effect="non-scaling-stroke">10</text>
<text x="0" y="0" style="font-family:'Liberation Serif', serif;font-size:100px;" transform="translate(502.96,776.50) scale(0.3100,0.2769)" stroke="#fff" stroke-width="0.25" vector-effect="non-scaling-stroke">2</text>
<text x="0" y="0" style="font-family:'Liberation Serif', serif;font-size:100px;" transform="translate(707.40,474.44) scale(0.3885,0.3824)" stroke="#fff" stroke-width="0.25" vector-effect="non-scaling-stroke">10</text>
<text x="0" y="0" style="font-family:'Liberation Serif', serif;font-size:100px;" transform="translate(745.62,461.22) scale(0.2951,0.2773)" stroke="#fff" stroke-width="0.25" vector-effect="non-scaling-stroke">3</text>
<text x="0" y="0" style="font-family:'Liberation Serif', serif;font-size:100px;" transform="translate(707.40,625.14) scale(0.3885,0.3779)" stroke="#fff" stroke-width="0.25" vector-effect="non-scaling-stroke">10</text>
<text x="0" y="0" style="font-family:'Liberation Serif', serif;font-size:100px;" transform="translate(745.26,611.57) scale(0.3095,0.2672)" stroke="#fff" stroke-width="0.25" vector-effect="non-scaling-stroke">0</text>
<text x="0" y="0" style="font-family:'Liberation Serif', serif;font-size:100px;" transform="translate(755.00,789.84) scale(0.3885,0.3779)" stroke="#fff" stroke-width="0.25" vector-effect="non-scaling-stroke">10</text>
<text x="0" y="0" style="font-family:'Liberation Serif', serif;font-size:100px;" transform="translate(816.08,776.80) scale(0.2914,0.2712)" stroke="#fff" stroke-width="0.25" vector-effect="non-scaling-stroke">1</text>
<text x="0" y="0" style="font-family:'Liberation Serif', serif;font-size:100px;" transform="translate(991.04,789.84) scale(0.3839,0.3779)" stroke="#fff" stroke-width="0.25" vector-effect="non-scaling-stroke">10</text>
<text x="0" y="0" style="font-family:'Liberation Serif', serif;font-size:100px;" transform="translate(1028.86,776.66) scale(0.3095,0.2687)" stroke="#fff" stroke-width="0.25" vector-effect="non-scaling-stroke">0</text>
<text x="0" y="0" style="font-family:'Liberation Serif', serif;font-size:100px;font-style:italic;" transform="translate(344.50,397.74) scale(0.4029,0.3604)" stroke="#fff" stroke-width="0.25" vector-effect="non-scaling-stroke">s</text>
<text x="0" y="0" style="font-family:'Liberation Serif', serif;font-size:100px;font-style:italic;" transform="translate(976.40,397.38) scale(0.4500,0.4158)" stroke="#fff" stroke-width="0.25" vector-effect="non-scaling-stroke">t</text>
<text x="0" y="0" style="font-family:'Liberation Serif', serif;font-size:100px;font-style:italic;" transform="translate(310.19,843.65) scale(0.4114,0.3521)" stroke="#fff" stroke-width="0.25" vector-effect="non-scaling-stroke">s</text>
<text x="0" y="0" style="font-family:'Liberation Serif', serif;font-size:100px;" transform="translate(328.20,851.93) scale(0.5286,0.5652)" stroke="#fff" stroke-width="0.25" vector-effect="non-scaling-stroke">/</text>
<text x="0" y="0" style="font-family:'Liberation Serif', serif;font-size:100px;font-style:italic;" transform="translate(346.64,843.70) scale(0.4404,0.3954)" stroke="#fff" stroke-width="0.25" vector-effect="non-scaling-stroke">L</text>
<text x="0" y="0" style="font-family:'Liberation Serif', serif;font-size:100px;font-style:italic;" transform="translate(372.50,830.30) scale(0.3042,0.2815)" stroke="#fff" stroke-width="0.25" vector-effect="non-scaling-stroke">D</text>
<text x="0" y="0" style="font-family:'Liberation Serif', serif;font-size:100px;font-style:italic;" transform="translate(947.32,840.48) scale(0.4462,0.4211)" stroke="#fff" stroke-width="0.25" vector-effect="non-scaling-stroke">t</text>
<text x="0" y="0" style="font-family:'Liberation Serif', serif;font-size:100px;" transform="translate(964.20,848.73) scale(0.5179,0.5652)" stroke="#fff" stroke-width="0.25" vector-effect="non-scaling-stroke">/</text>
<text x="0" y="0" style="font-family:'Liberation Serif', serif;font-size:100px;font-style:italic;" transform="translate(982.54,840.20) scale(0.4365,0.3969)" stroke="#fff" stroke-width="0.25" vector-effect="non-scaling-stroke">L</text>
<text x="0" y="0" style="font-family:'Liberation Serif', serif;font-size:100px;font-style:italic;" transform="translate(1007.92,826.80) scale(0.3154,0.2609)" stroke="#fff" stroke-width="0.25" vector-effect="non-scaling-stroke">z</text>
<text x="0" y="0" style="font-family:'Liberation Serif', serif;font-size:100px;font-style:italic;" transform="rotate(-90) translate(-204.40,28.50) scale(0.4559,0.4062)" stroke="#fff" stroke-width="0.25" vector-effect="non-scaling-stroke">P</text>
<text x="0" y="0" style="font-family:'Liberation Serif', serif;font-size:100px;font-style:italic;" transform="rotate(-90) translate(-181.47,34.04) scale(0.2900,0.2646)" stroke="#fff" stroke-width="0.25" vector-effect="non-scaling-stroke">c</text>
<text x="0" y="0" style="font-family:'Liberation Serif', serif;font-size:100px;" transform="rotate(-90) translate(-164.57,28.32) scale(0.3423,0.4322)" stroke="#fff" stroke-width="0.25" vector-effect="non-scaling-stroke">(</text>
<text x="0" y="0" style="font-family:'Liberation Serif', serif;font-size:100px;font-style:italic;" transform="rotate(-90) translate(-150.99,28.63) scale(0.3914,0.3729)" stroke="#fff" stroke-width="0.25" vector-effect="non-scaling-stroke">s</text>
<text x="0" y="0" style="font-family:'Liberation Serif', serif;font-size:100px;" transform="rotate(-90) translate(-134.24,28.32) scale(0.3462,0.4322)" stroke="#fff" stroke-width="0.25" vector-effect="non-scaling-stroke">)</text>
<text x="0" y="0" style="font-family:'Liberation Serif', serif;font-size:100px;font-style:italic;" transform="rotate(-90) translate(-203.00,660.70) scale(0.4492,0.3877)" stroke="#fff" stroke-width="0.25" vector-effect="non-scaling-stroke">P</text>
<text x="0" y="0" style="font-family:'Liberation Serif', serif;font-size:100px;font-style:italic;" transform="rotate(-90) translate(-179.92,666.64) scale(0.3075,0.2562)" stroke="#fff" stroke-width="0.25" vector-effect="non-scaling-stroke">c</text>
<text x="0" y="0" style="font-family:'Liberation Serif', serif;font-size:100px;" transform="rotate(-90) translate(-162.52,661.23) scale(0.3538,0.4178)" stroke="#fff" stroke-width="0.25" vector-effect="non-scaling-stroke">(</text>
<text x="0" y="0" style="font-family:'Liberation Serif', serif;font-size:100px;font-style:italic;" transform="rotate(-90) translate(-151.11,660.88) scale(0.4269,0.4211)" stroke="#fff" stroke-width="0.25" vector-effect="non-scaling-stroke">t</text>
<text x="0" y="0" style="font-family:'Liberation Serif', serif;font-size:100px;" transform="rotate(-90) translate(-136.37,661.23) scale(0.3577,0.4178)" stroke="#fff" stroke-width="0.25" vector-effect="non-scaling-stroke">)</text>
<text x="0" y="0" style="font-family:'Liberation Serif', serif;font-size:100px;font-style:italic;" transform="rotate(-90) translate(-715.00,51.60) scale(0.4441,0.3969)" stroke="#fff" stroke-width="0.25" vector-effect="non-scaling-stroke">P</text>
<text x="0" y="0" style="font-family:'Liberation Serif', serif;font-size:100px;font-style:italic;" transform="rotate(-90) translate(-691.94,56.95) scale(0.2800,0.2542)" stroke="#fff" stroke-width="0.25" vector-effect="non-scaling-stroke">c</text>
<text x="0" y="0" style="font-family:'Liberation Serif', serif;font-size:100px;" transform="rotate(-90) translate(-675.57,52.13) scale(0.3423,0.4222)" stroke="#fff" stroke-width="0.25" vector-effect="non-scaling-stroke">(</text>
<text x="0" y="0" style="font-family:'Liberation Serif', serif;font-size:100px;font-style:italic;" transform="rotate(-90) translate(-662.00,51.74) scale(0.4029,0.3625)" stroke="#fff" stroke-width="0.25" vector-effect="non-scaling-stroke">s</text>
<text x="0" y="0" style="font-family:'Liberation Serif', serif;font-size:100px;" transform="rotate(-90) translate(-645.43,52.13) scale(0.3423,0.4222)" stroke="#fff" stroke-width="0.25" vector-effect="non-scaling-stroke">)</text>
<text x="0" y="0" style="font-family:'Liberation Serif', serif;font-size:100px;font-style:italic;" transform="rotate(-90) translate(-629.88,51.90) scale(0.4212,0.3969)" stroke="#fff" stroke-width="0.25" vector-effect="non-scaling-stroke">L</text>
<text x="0" y="0" style="font-family:'Liberation Serif', serif;font-size:100px;font-style:italic;" transform="rotate(-90) translate(-603.60,37.70) scale(0.2958,0.2769)" stroke="#fff" stroke-width="0.25" vector-effect="non-scaling-stroke">D</text>
<text x="0" y="0" style="font-family:'Liberation Serif', serif;font-size:100px;" transform="rotate(-90) translate(-578.49,38.64) scale(0.2731,0.2933)" stroke="#fff" stroke-width="0.25" vector-effect="non-scaling-stroke">(</text>
<text x="0" y="0" style="font-family:'Liberation Serif', serif;font-size:100px;font-style:italic;" transform="rotate(-90) translate(-568.26,42.03) scale(0.2784,0.2745)" stroke="#fff" stroke-width="0.25" vector-effect="non-scaling-stroke">τ</text>
<text x="0" y="0" style="font-family:'Liberation Serif', serif;font-size:100px;font-style:italic;" transform="rotate(-90) translate(-553.10,41.42) scale(0.2029,0.1750)" stroke="#fff" stroke-width="0.25" vector-effect="non-scaling-stroke">s</text>
<text x="0" y="0" style="font-family:'Liberation Serif', serif;font-size:100px;" transform="rotate(-90) translate(-517.22,38.00) scale(0.2800,0.2697)" stroke="#fff" stroke-width="0.25" vector-effect="non-scaling-stroke">1</text>
<text x="0" y="0" style="font-family:'Liberation Serif', serif;font-size:100px;" transform="rotate(-90) translate(-501.35,38.35) scale(0.2500,0.2978)" stroke="#fff" stroke-width="0.25" vector-effect="non-scaling-stroke">)</text>
<text x="0" y="0" style="font-family:'Liberation Serif', serif;font-size:100px;font-style:italic;" transform="rotate(-90) translate(-707.50,684.10) scale(0.4441,0.3969)" stroke="#fff" stroke-width="0.25" vector-effect="non-scaling-stroke">P</text>
<text x="0" y="0" style="font-family:'Liberation Serif', serif;font-size:100px;font-style:italic;" transform="rotate(-90) translate(-684.44,689.46) scale(0.2800,0.2438)" stroke="#fff" stroke-width="0.25" vector-effect="non-scaling-stroke">c</text>
<text x="0" y="0" style="font-family:'Liberation Serif', serif;font-size:100px;" transform="rotate(-90) translate(-667.67,684.37) scale(0.3423,0.4111)" stroke="#fff" stroke-width="0.25" vector-effect="non-scaling-stroke">(</text>
<text x="0" y="0" style="font-family:'Liberation Serif', serif;font-size:100px;font-style:italic;" transform="rotate(-90) translate(-655.88,684.37) scale(0.4192,0.4316)" stroke="#fff" stroke-width="0.25" vector-effect="non-scaling-stroke">t</text>
<text x="0" y="0" style="font-family:'Liberation Serif', serif;font-size:100px;" transform="rotate(-90) translate(-640.78,684.41) scale(0.3615,0.4233)" stroke="#fff" stroke-width="0.25" vector-effect="non-scaling-stroke">)</text>
<text x="0" y="0" style="font-family:'Liberation Serif', serif;font-size:100px;font-style:italic;" transform="rotate(-90) translate(-625.76,684.00) scale(0.4385,0.4062)" stroke="#fff" stroke-width="0.25" vector-effect="non-scaling-stroke">L</text>
<text x="0" y="0" style="font-family:'Liberation Serif', serif;font-size:100px;font-style:italic;" transform="rotate(-90) translate(-599.47,671.10) scale(0.3282,0.2674)" stroke="#fff" stroke-width="0.25" vector-effect="non-scaling-stroke">z</text>
<text x="0" y="0" style="font-family:'Liberation Serif', serif;font-size:100px;" transform="rotate(-90) translate(-584.48,670.74) scale(0.2692,0.2933)" stroke="#fff" stroke-width="0.25" vector-effect="non-scaling-stroke">(</text>
<text x="0" y="0" style="font-family:'Liberation Serif', serif;font-size:100px;font-style:italic;" transform="rotate(-90) translate(-574.45,670.17) scale(0.3757,0.2340)" stroke="#fff" stroke-width="0.25" vector-effect="non-scaling-stroke">τ</text>
<text x="0" y="0" style="font-family:'Liberation Serif', serif;font-size:100px;font-style:italic;" transform="rotate(-90) translate(-561.03,674.19) scale(0.3077,0.2105)" stroke="#fff" stroke-width="0.25" vector-effect="non-scaling-stroke">t</text>
<text x="0" y="0" style="font-family:'Liberation Serif', serif;font-size:100px;" transform="rotate(-90) translate(-525.47,670.40) scale(0.2857,0.2636)" stroke="#fff" stroke-width="0.25" vector-effect="non-scaling-stroke">1</text>
<text x="0" y="0" style="font-family:'Liberation Serif', serif;font-size:100px;" transform="rotate(-90) translate(-509.25,670.74) scale(0.2500,0.2933)" stroke="#fff" stroke-width="0.25" vector-effect="non-scaling-stroke">)</text>
<text x="0" y="0" style="font-family:'Liberation Serif', serif;font-size:100px;font-style:italic;" transform="translate(225.54,653.64) scale(0.4811,0.3596)" stroke="#fff" stroke-width="0.25" vector-effect="non-scaling-stroke">τ</text>
<text x="0" y="0" style="font-family:'Liberation Serif', serif;font-size:100px;font-style:italic;" transform="translate(243.29,659.02) scale(0.3086,0.2771)" stroke="#fff" stroke-width="0.25" vector-effect="non-scaling-stroke">s</text>
<rect x="272.2" y="639.7" width="25.1" height="1.75" fill="#000"/>
<rect x="272.2" y="646.75" width="25.1" height="1.75" fill="#000"/>
<text x="0" y="0" style="font-family:'Liberation Serif', serif;font-size:100px;" transform="translate(310.89,653.92) scale(0.3787,0.3791)" stroke="#fff" stroke-width="0.25" vector-effect="non-scaling-stroke">1.71</text>
<text x="0" y="0" style="font-family:'Liberation Serif', serif;font-size:100px;font-style:italic;" transform="translate(227.50,692.10) scale(0.3972,0.3877)" stroke="#fff" stroke-width="0.25" vector-effect="non-scaling-stroke">D</text>
<rect x="272.2" y="678.4" width="24.7" height="1.75" fill="#000"/>
<rect x="272.2" y="684.85" width="24.7" height="1.75" fill="#000"/>
<text x="0" y="0" style="font-family:'Liberation Serif', serif;font-size:100px;" transform="translate(311.26,692.14) scale(0.3842,0.3776)" stroke="#fff" stroke-width="0.25" vector-effect="non-scaling-stroke">2.02</text>
<text x="0" y="0" style="font-family:'Liberation Serif', serif;font-size:100px;font-style:italic;" transform="translate(858.04,653.64) scale(0.4784,0.3617)" stroke="#fff" stroke-width="0.25" vector-effect="non-scaling-stroke">τ</text>
<text x="0" y="0" style="font-family:'Liberation Serif', serif;font-size:100px;font-style:italic;" transform="translate(874.03,659.04) scale(0.3423,0.2561)" stroke="#fff" stroke-width="0.25" vector-effect="non-scaling-stroke">t</text>
<rect x="902.1" y="639.7" width="24.7" height="1.75" fill="#000"/>
<rect x="902.1" y="646.75" width="24.7" height="1.75" fill="#000"/>
<text x="0" y="0" style="font-family:'Liberation Serif', serif;font-size:100px;" transform="translate(940.81,653.75) scale(0.3787,0.3765)" stroke="#fff" stroke-width="0.25" vector-effect="non-scaling-stroke">3.81</text>
<text x="0" y="0" style="font-family:'Liberation Serif', serif;font-size:100px;font-style:italic;" transform="translate(860.01,692.90) scale(0.4051,0.3717)" stroke="#fff" stroke-width="0.25" vector-effect="non-scaling-stroke">z</text>
<rect x="891.3" y="678.4" width="25.4" height="1.75" fill="#000"/>
<rect x="891.3" y="684.85" width="25.4" height="1.75" fill="#000"/>
<text x="0" y="0" style="font-family:'Liberation Serif', serif;font-size:100px;" transform="translate(930.36,692.52) scale(0.3838,0.3896)" stroke="#fff" stroke-width="0.25" vector-effect="non-scaling-stroke">0.43</text>
<text x="0" y="0" style="font-family:'Liberation Serif', serif;font-size:100px;font-style:italic;" transform="translate(1289.34,223.60) scale(0.4442,0.4077)" stroke="#fff" stroke-width="0.25" vector-effect="non-scaling-stroke">L</text>
<rect x="1325.1" y="208.9" width="25.8" height="1.75" fill="#000"/>
<rect x="1325.1" y="216.65" width="25.8" height="1.75" fill="#000"/>
<text x="0" y="0" style="font-family:'Liberation Serif', serif;font-size:100px;" transform="translate(1362.19,223.33) scale(0.3788,0.3853)" stroke="#fff" stroke-width="0.25" vector-effect="non-scaling-stroke">100</text>
<text x="0" y="0" style="font-family:'Liberation Serif', serif;font-size:100px;font-style:italic;" transform="translate(1289.34,283.35) scale(0.4442,0.4077)" stroke="#fff" stroke-width="0.25" vector-effect="non-scaling-stroke">L</text>
<rect x="1325.1" y="268.65" width="25.8" height="1.75" fill="#000"/>
<rect x="1325.1" y="276.4" width="25.8" height="1.75" fill="#000"/>
<text x="0" y="0" style="font-family:'Liberation Serif', serif;font-size:100px;" transform="translate(1362.19,283.08) scale(0.3788,0.3853)" stroke="#fff" stroke-width="0.25" vector-effect="non-scaling-stroke">120</text>
<text x="0" y="0" style="font-family:'Liberation Serif', serif;font-size:100px;font-style:italic;" transform="translate(1289.34,343.10) scale(0.4442,0.4077)" stroke="#fff" stroke-width="0.25" vector-effect="non-scaling-stroke">L</text>
<rect x="1325.1" y="328.4" width="25.8" height="1.75" fill="#000"/>
<rect x="1325.1" y="336.15" width="25.8" height="1.75" fill="#000"/>
<text x="0" y="0" style="font-family:'Liberation Serif', serif;font-size:100px;" transform="translate(1362.19,342.83) scale(0.3788,0.3853)" stroke="#fff" stroke-width="0.25" vector-effect="non-scaling-stroke">140</text>
<text x="0" y="0" style="font-family:'Liberation Serif', serif;font-size:100px;font-style:italic;" transform="translate(1289.34,402.85) scale(0.4442,0.4077)" stroke="#fff" stroke-width="0.25" vector-effect="non-scaling-stroke">L</text>
<rect x="1325.1" y="388.15" width="25.8" height="1.75" fill="#000"/>
<rect x="1325.1" y="395.9" width="25.8" height="1.75" fill="#000"/>
<text x="0" y="0" style="font-family:'Liberation Serif', serif;font-size:100px;" transform="translate(1362.19,402.58) scale(0.3788,0.3853)" stroke="#fff" stroke-width="0.25" vector-effect="non-scaling-stroke">160</text>
<text x="0" y="0" style="font-family:'Liberation Serif', serif;font-size:100px;font-style:italic;" transform="translate(1289.34,462.60) scale(0.4442,0.4077)" stroke="#fff" stroke-width="0.25" vector-effect="non-scaling-stroke">L</text>
<rect x="1325.1" y="447.9" width="25.8" height="1.75" fill="#000"/>
<rect x="1325.1" y="455.65" width="25.8" height="1.75" fill="#000"/>
<text x="0" y="0" style="font-family:'Liberation Serif', serif;font-size:100px;" transform="translate(1362.19,462.33) scale(0.3788,0.3853)" stroke="#fff" stroke-width="0.25" vector-effect="non-scaling-stroke">180</text>
<text x="0" y="0" style="font-family:'Liberation Serif', serif;font-size:100px;font-style:italic;" transform="translate(1289.34,522.35) scale(0.4442,0.4077)" stroke="#fff" stroke-width="0.25" vector-effect="non-scaling-stroke">L</text>
<rect x="1325.1" y="507.65" width="25.8" height="1.75" fill="#000"/>
<rect x="1325.1" y="515.4" width="25.8" height="1.75" fill="#000"/>
<text x="0" y="0" style="font-family:'Liberation Serif', serif;font-size:100px;" transform="translate(1364.14,522.07) scale(0.3655,0.3910)" stroke="#fff" stroke-width="0.25" vector-effect="non-scaling-stroke">200</text>
<text x="0" y="0" style="font-family:'Liberation Serif', serif;font-size:100px;font-style:italic;" transform="translate(1289.34,582.10) scale(0.4442,0.4077)" stroke="#fff" stroke-width="0.25" vector-effect="non-scaling-stroke">L</text>
<rect x="1325.1" y="567.4" width="25.8" height="1.75" fill="#000"/>
<rect x="1325.1" y="575.15" width="25.8" height="1.75" fill="#000"/>
<text x="0" y="0" style="font-family:'Liberation Serif', serif;font-size:100px;" transform="translate(1364.14,581.82) scale(0.3655,0.3910)" stroke="#fff" stroke-width="0.25" vector-effect="non-scaling-stroke">220</text>
<rect x="92.4" y="181.8" width="17.8" height="2" fill="#000"/>
<rect x="725.0" y="181.8" width="17.8" height="2" fill="#000"/>
<rect x="247.9" y="768.8" width="18" height="2" fill="#000"/>
<rect x="365.1" y="768.8" width="18" height="2" fill="#000"/>
<rect x="482.3" y="768.8" width="18" height="2" fill="#000"/>
<rect x="795.8" y="768.8" width="18" height="2" fill="#000"/>
<rect x="30.2" y="520.3" width="1.7" height="17.4" fill="#000"/>
<rect x="663.0" y="528.4" width="1.6" height="17.4" fill="#000"/></g></svg></body></html>
